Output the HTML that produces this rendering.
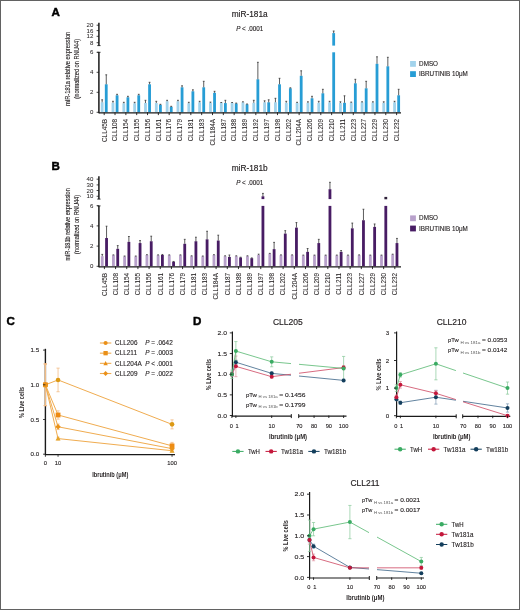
<!DOCTYPE html>
<html><head><meta charset="utf-8"><style>
html,body{margin:0;padding:0;background:#fff;}
body{width:520px;height:610px;overflow:hidden;}
svg{display:block;font-family:"Liberation Sans", sans-serif;will-change:transform;}
text{stroke:#231f20;stroke-width:0.12px;}
text.nb{stroke:#000;stroke-width:0.45px;}
text.t{stroke-width:0.16px;}
text.b{font-weight:bold;stroke-width:0;}
</style></head><body>
<svg width="520" height="610" viewBox="0 0 520 610" font-family='"Liberation Sans", sans-serif'>
<rect x="0" y="0" width="520" height="610" fill="#fff"/>
<rect x="100.75" y="102.30" width="2.80" height="10.00" fill="#a2d3ec"/>
<line x1="102.15" y1="99.80" x2="102.15" y2="102.30" stroke="#333333" stroke-width="0.8"/>
<line x1="101.25" y1="99.80" x2="103.05" y2="99.80" stroke="#333333" stroke-width="0.8"/>
<rect x="104.85" y="84.30" width="2.80" height="28.00" fill="#279dd5"/>
<line x1="106.25" y1="74.80" x2="106.25" y2="84.30" stroke="#333333" stroke-width="0.8"/>
<line x1="105.35" y1="74.80" x2="107.15" y2="74.80" stroke="#333333" stroke-width="0.8"/>
<line x1="104.20" y1="112.30" x2="104.20" y2="115.10" stroke="#1a1a1a" stroke-width="0.9"/>
<text transform="translate(106.50,118.90) rotate(-90)" font-size="6.4" text-anchor="end" fill="#231f20" style="stroke-width:0.05px">CLL45B</text>
<rect x="111.58" y="102.80" width="2.80" height="9.50" fill="#a2d3ec"/>
<line x1="112.98" y1="101.30" x2="112.98" y2="102.80" stroke="#333333" stroke-width="0.8"/>
<line x1="112.08" y1="101.30" x2="113.88" y2="101.30" stroke="#333333" stroke-width="0.8"/>
<rect x="115.68" y="95.30" width="2.80" height="17.00" fill="#279dd5"/>
<line x1="117.08" y1="94.30" x2="117.08" y2="95.30" stroke="#333333" stroke-width="0.8"/>
<line x1="116.18" y1="94.30" x2="117.98" y2="94.30" stroke="#333333" stroke-width="0.8"/>
<line x1="115.03" y1="112.30" x2="115.03" y2="115.10" stroke="#1a1a1a" stroke-width="0.9"/>
<text transform="translate(117.33,118.90) rotate(-90)" font-size="6.4" text-anchor="end" fill="#231f20" style="stroke-width:0.05px">CLL108</text>
<rect x="122.41" y="103.30" width="2.80" height="9.00" fill="#a2d3ec"/>
<line x1="123.81" y1="102.30" x2="123.81" y2="103.30" stroke="#333333" stroke-width="0.8"/>
<line x1="122.91" y1="102.30" x2="124.71" y2="102.30" stroke="#333333" stroke-width="0.8"/>
<rect x="126.51" y="97.30" width="2.80" height="15.00" fill="#279dd5"/>
<line x1="127.91" y1="96.30" x2="127.91" y2="97.30" stroke="#333333" stroke-width="0.8"/>
<line x1="127.01" y1="96.30" x2="128.81" y2="96.30" stroke="#333333" stroke-width="0.8"/>
<line x1="125.86" y1="112.30" x2="125.86" y2="115.10" stroke="#1a1a1a" stroke-width="0.9"/>
<text transform="translate(128.16,118.90) rotate(-90)" font-size="6.4" text-anchor="end" fill="#231f20" style="stroke-width:0.05px">CLL154</text>
<rect x="133.24" y="103.30" width="2.80" height="9.00" fill="#a2d3ec"/>
<line x1="134.64" y1="102.30" x2="134.64" y2="103.30" stroke="#333333" stroke-width="0.8"/>
<line x1="133.74" y1="102.30" x2="135.54" y2="102.30" stroke="#333333" stroke-width="0.8"/>
<rect x="137.34" y="95.30" width="2.80" height="17.00" fill="#279dd5"/>
<line x1="138.74" y1="94.30" x2="138.74" y2="95.30" stroke="#333333" stroke-width="0.8"/>
<line x1="137.84" y1="94.30" x2="139.64" y2="94.30" stroke="#333333" stroke-width="0.8"/>
<line x1="136.69" y1="112.30" x2="136.69" y2="115.10" stroke="#1a1a1a" stroke-width="0.9"/>
<text transform="translate(138.99,118.90) rotate(-90)" font-size="6.4" text-anchor="end" fill="#231f20" style="stroke-width:0.05px">CLL155</text>
<rect x="144.07" y="103.00" width="2.80" height="9.30" fill="#a2d3ec"/>
<line x1="145.47" y1="100.30" x2="145.47" y2="103.00" stroke="#333333" stroke-width="0.8"/>
<line x1="144.57" y1="100.30" x2="146.37" y2="100.30" stroke="#333333" stroke-width="0.8"/>
<rect x="148.17" y="84.30" width="2.80" height="28.00" fill="#279dd5"/>
<line x1="149.57" y1="82.30" x2="149.57" y2="84.30" stroke="#333333" stroke-width="0.8"/>
<line x1="148.67" y1="82.30" x2="150.47" y2="82.30" stroke="#333333" stroke-width="0.8"/>
<line x1="147.52" y1="112.30" x2="147.52" y2="115.10" stroke="#1a1a1a" stroke-width="0.9"/>
<text transform="translate(149.82,118.90) rotate(-90)" font-size="6.4" text-anchor="end" fill="#231f20" style="stroke-width:0.05px">CLL156</text>
<rect x="154.90" y="103.00" width="2.80" height="9.30" fill="#a2d3ec"/>
<line x1="156.30" y1="101.30" x2="156.30" y2="103.00" stroke="#333333" stroke-width="0.8"/>
<line x1="155.40" y1="101.30" x2="157.20" y2="101.30" stroke="#333333" stroke-width="0.8"/>
<rect x="159.00" y="104.80" width="2.80" height="7.50" fill="#279dd5"/>
<line x1="160.40" y1="104.30" x2="160.40" y2="104.80" stroke="#333333" stroke-width="0.8"/>
<line x1="159.50" y1="104.30" x2="161.30" y2="104.30" stroke="#333333" stroke-width="0.8"/>
<line x1="158.35" y1="112.30" x2="158.35" y2="115.10" stroke="#1a1a1a" stroke-width="0.9"/>
<text transform="translate(160.65,118.90) rotate(-90)" font-size="6.4" text-anchor="end" fill="#231f20" style="stroke-width:0.05px">CLL161</text>
<rect x="165.73" y="101.30" width="2.80" height="11.00" fill="#a2d3ec"/>
<line x1="167.13" y1="100.30" x2="167.13" y2="101.30" stroke="#333333" stroke-width="0.8"/>
<line x1="166.23" y1="100.30" x2="168.03" y2="100.30" stroke="#333333" stroke-width="0.8"/>
<rect x="169.83" y="106.80" width="2.80" height="5.50" fill="#279dd5"/>
<line x1="171.23" y1="106.30" x2="171.23" y2="106.80" stroke="#333333" stroke-width="0.8"/>
<line x1="170.33" y1="106.30" x2="172.13" y2="106.30" stroke="#333333" stroke-width="0.8"/>
<line x1="169.18" y1="112.30" x2="169.18" y2="115.10" stroke="#1a1a1a" stroke-width="0.9"/>
<text transform="translate(171.48,118.90) rotate(-90)" font-size="6.4" text-anchor="end" fill="#231f20" style="stroke-width:0.05px">CLL176</text>
<rect x="176.56" y="101.30" width="2.80" height="11.00" fill="#a2d3ec"/>
<line x1="177.96" y1="100.30" x2="177.96" y2="101.30" stroke="#333333" stroke-width="0.8"/>
<line x1="177.06" y1="100.30" x2="178.86" y2="100.30" stroke="#333333" stroke-width="0.8"/>
<rect x="180.66" y="87.30" width="2.80" height="25.00" fill="#279dd5"/>
<line x1="182.06" y1="85.80" x2="182.06" y2="87.30" stroke="#333333" stroke-width="0.8"/>
<line x1="181.16" y1="85.80" x2="182.96" y2="85.80" stroke="#333333" stroke-width="0.8"/>
<line x1="180.01" y1="112.30" x2="180.01" y2="115.10" stroke="#1a1a1a" stroke-width="0.9"/>
<text transform="translate(182.31,118.90) rotate(-90)" font-size="6.4" text-anchor="end" fill="#231f20" style="stroke-width:0.05px">CLL179</text>
<rect x="187.39" y="103.30" width="2.80" height="9.00" fill="#a2d3ec"/>
<line x1="188.79" y1="102.30" x2="188.79" y2="103.30" stroke="#333333" stroke-width="0.8"/>
<line x1="187.89" y1="102.30" x2="189.69" y2="102.30" stroke="#333333" stroke-width="0.8"/>
<rect x="191.49" y="91.30" width="2.80" height="21.00" fill="#279dd5"/>
<line x1="192.89" y1="89.80" x2="192.89" y2="91.30" stroke="#333333" stroke-width="0.8"/>
<line x1="191.99" y1="89.80" x2="193.79" y2="89.80" stroke="#333333" stroke-width="0.8"/>
<line x1="190.84" y1="112.30" x2="190.84" y2="115.10" stroke="#1a1a1a" stroke-width="0.9"/>
<text transform="translate(193.14,118.90) rotate(-90)" font-size="6.4" text-anchor="end" fill="#231f20" style="stroke-width:0.05px">CLL181</text>
<rect x="198.22" y="102.30" width="2.80" height="10.00" fill="#a2d3ec"/>
<line x1="199.62" y1="101.30" x2="199.62" y2="102.30" stroke="#333333" stroke-width="0.8"/>
<line x1="198.72" y1="101.30" x2="200.52" y2="101.30" stroke="#333333" stroke-width="0.8"/>
<rect x="202.32" y="87.30" width="2.80" height="25.00" fill="#279dd5"/>
<line x1="203.72" y1="81.30" x2="203.72" y2="87.30" stroke="#333333" stroke-width="0.8"/>
<line x1="202.82" y1="81.30" x2="204.62" y2="81.30" stroke="#333333" stroke-width="0.8"/>
<line x1="201.67" y1="112.30" x2="201.67" y2="115.10" stroke="#1a1a1a" stroke-width="0.9"/>
<text transform="translate(203.97,118.90) rotate(-90)" font-size="6.4" text-anchor="end" fill="#231f20" style="stroke-width:0.05px">CLL183</text>
<rect x="209.05" y="102.80" width="2.80" height="9.50" fill="#a2d3ec"/>
<line x1="210.45" y1="102.10" x2="210.45" y2="102.80" stroke="#333333" stroke-width="0.8"/>
<line x1="209.55" y1="102.10" x2="211.35" y2="102.10" stroke="#333333" stroke-width="0.8"/>
<rect x="213.15" y="92.80" width="2.80" height="19.50" fill="#279dd5"/>
<line x1="214.55" y1="91.30" x2="214.55" y2="92.80" stroke="#333333" stroke-width="0.8"/>
<line x1="213.65" y1="91.30" x2="215.45" y2="91.30" stroke="#333333" stroke-width="0.8"/>
<line x1="212.50" y1="112.30" x2="212.50" y2="115.10" stroke="#1a1a1a" stroke-width="0.9"/>
<text transform="translate(214.80,118.90) rotate(-90)" font-size="6.4" text-anchor="end" fill="#231f20" style="stroke-width:0.05px">CLL184A</text>
<rect x="219.88" y="102.80" width="2.80" height="9.50" fill="#a2d3ec"/>
<line x1="221.28" y1="102.50" x2="221.28" y2="102.80" stroke="#333333" stroke-width="0.8"/>
<line x1="220.38" y1="102.50" x2="222.18" y2="102.50" stroke="#333333" stroke-width="0.8"/>
<rect x="223.98" y="103.10" width="2.80" height="9.20" fill="#279dd5"/>
<line x1="225.38" y1="100.30" x2="225.38" y2="103.10" stroke="#333333" stroke-width="0.8"/>
<line x1="224.48" y1="100.30" x2="226.28" y2="100.30" stroke="#333333" stroke-width="0.8"/>
<line x1="223.33" y1="112.30" x2="223.33" y2="115.10" stroke="#1a1a1a" stroke-width="0.9"/>
<text transform="translate(225.63,118.90) rotate(-90)" font-size="6.4" text-anchor="end" fill="#231f20" style="stroke-width:0.05px">CLL187</text>
<rect x="230.71" y="102.80" width="2.80" height="9.50" fill="#a2d3ec"/>
<line x1="232.11" y1="102.50" x2="232.11" y2="102.80" stroke="#333333" stroke-width="0.8"/>
<line x1="231.21" y1="102.50" x2="233.01" y2="102.50" stroke="#333333" stroke-width="0.8"/>
<rect x="234.81" y="103.50" width="2.80" height="8.80" fill="#279dd5"/>
<line x1="236.21" y1="103.10" x2="236.21" y2="103.50" stroke="#333333" stroke-width="0.8"/>
<line x1="235.31" y1="103.10" x2="237.11" y2="103.10" stroke="#333333" stroke-width="0.8"/>
<line x1="234.16" y1="112.30" x2="234.16" y2="115.10" stroke="#1a1a1a" stroke-width="0.9"/>
<text transform="translate(236.46,118.90) rotate(-90)" font-size="6.4" text-anchor="end" fill="#231f20" style="stroke-width:0.05px">CLL188</text>
<rect x="241.54" y="102.30" width="2.80" height="10.00" fill="#a2d3ec"/>
<line x1="242.94" y1="101.80" x2="242.94" y2="102.30" stroke="#333333" stroke-width="0.8"/>
<line x1="242.04" y1="101.80" x2="243.84" y2="101.80" stroke="#333333" stroke-width="0.8"/>
<rect x="245.64" y="104.30" width="2.80" height="8.00" fill="#279dd5"/>
<line x1="247.04" y1="104.00" x2="247.04" y2="104.30" stroke="#333333" stroke-width="0.8"/>
<line x1="246.14" y1="104.00" x2="247.94" y2="104.00" stroke="#333333" stroke-width="0.8"/>
<line x1="244.99" y1="112.30" x2="244.99" y2="115.10" stroke="#1a1a1a" stroke-width="0.9"/>
<text transform="translate(247.29,118.90) rotate(-90)" font-size="6.4" text-anchor="end" fill="#231f20" style="stroke-width:0.05px">CLL189</text>
<rect x="252.37" y="102.80" width="2.80" height="9.50" fill="#a2d3ec"/>
<line x1="253.77" y1="100.30" x2="253.77" y2="102.80" stroke="#333333" stroke-width="0.8"/>
<line x1="252.87" y1="100.30" x2="254.67" y2="100.30" stroke="#333333" stroke-width="0.8"/>
<rect x="256.47" y="79.30" width="2.80" height="33.00" fill="#279dd5"/>
<line x1="257.87" y1="62.30" x2="257.87" y2="79.30" stroke="#333333" stroke-width="0.8"/>
<line x1="256.97" y1="62.30" x2="258.77" y2="62.30" stroke="#333333" stroke-width="0.8"/>
<line x1="255.82" y1="112.30" x2="255.82" y2="115.10" stroke="#1a1a1a" stroke-width="0.9"/>
<text transform="translate(258.12,118.90) rotate(-90)" font-size="6.4" text-anchor="end" fill="#231f20" style="stroke-width:0.05px">CLL192</text>
<rect x="263.20" y="102.30" width="2.80" height="10.00" fill="#a2d3ec"/>
<line x1="264.60" y1="100.80" x2="264.60" y2="102.30" stroke="#333333" stroke-width="0.8"/>
<line x1="263.70" y1="100.80" x2="265.50" y2="100.80" stroke="#333333" stroke-width="0.8"/>
<rect x="267.30" y="102.30" width="2.80" height="10.00" fill="#279dd5"/>
<line x1="268.70" y1="99.80" x2="268.70" y2="102.30" stroke="#333333" stroke-width="0.8"/>
<line x1="267.80" y1="99.80" x2="269.60" y2="99.80" stroke="#333333" stroke-width="0.8"/>
<line x1="266.65" y1="112.30" x2="266.65" y2="115.10" stroke="#1a1a1a" stroke-width="0.9"/>
<text transform="translate(268.95,118.90) rotate(-90)" font-size="6.4" text-anchor="end" fill="#231f20" style="stroke-width:0.05px">CLL197</text>
<rect x="274.03" y="102.30" width="2.80" height="10.00" fill="#a2d3ec"/>
<line x1="275.43" y1="98.30" x2="275.43" y2="102.30" stroke="#333333" stroke-width="0.8"/>
<line x1="274.53" y1="98.30" x2="276.33" y2="98.30" stroke="#333333" stroke-width="0.8"/>
<rect x="278.13" y="84.30" width="2.80" height="28.00" fill="#279dd5"/>
<line x1="279.53" y1="78.30" x2="279.53" y2="84.30" stroke="#333333" stroke-width="0.8"/>
<line x1="278.63" y1="78.30" x2="280.43" y2="78.30" stroke="#333333" stroke-width="0.8"/>
<line x1="277.48" y1="112.30" x2="277.48" y2="115.10" stroke="#1a1a1a" stroke-width="0.9"/>
<text transform="translate(279.78,118.90) rotate(-90)" font-size="6.4" text-anchor="end" fill="#231f20" style="stroke-width:0.05px">CLL198</text>
<rect x="284.86" y="102.80" width="2.80" height="9.50" fill="#a2d3ec"/>
<line x1="286.26" y1="101.30" x2="286.26" y2="102.80" stroke="#333333" stroke-width="0.8"/>
<line x1="285.36" y1="101.30" x2="287.16" y2="101.30" stroke="#333333" stroke-width="0.8"/>
<rect x="288.96" y="88.30" width="2.80" height="24.00" fill="#279dd5"/>
<line x1="290.36" y1="87.80" x2="290.36" y2="88.30" stroke="#333333" stroke-width="0.8"/>
<line x1="289.46" y1="87.80" x2="291.26" y2="87.80" stroke="#333333" stroke-width="0.8"/>
<line x1="288.31" y1="112.30" x2="288.31" y2="115.10" stroke="#1a1a1a" stroke-width="0.9"/>
<text transform="translate(290.61,118.90) rotate(-90)" font-size="6.4" text-anchor="end" fill="#231f20" style="stroke-width:0.05px">CLL202</text>
<rect x="295.69" y="103.00" width="2.80" height="9.30" fill="#a2d3ec"/>
<line x1="297.09" y1="102.30" x2="297.09" y2="103.00" stroke="#333333" stroke-width="0.8"/>
<line x1="296.19" y1="102.30" x2="297.99" y2="102.30" stroke="#333333" stroke-width="0.8"/>
<rect x="299.79" y="75.80" width="2.80" height="36.50" fill="#279dd5"/>
<line x1="301.19" y1="70.80" x2="301.19" y2="75.80" stroke="#333333" stroke-width="0.8"/>
<line x1="300.29" y1="70.80" x2="302.09" y2="70.80" stroke="#333333" stroke-width="0.8"/>
<line x1="299.14" y1="112.30" x2="299.14" y2="115.10" stroke="#1a1a1a" stroke-width="0.9"/>
<text transform="translate(301.44,118.90) rotate(-90)" font-size="6.4" text-anchor="end" fill="#231f20" style="stroke-width:0.05px">CLL204A</text>
<rect x="306.52" y="102.80" width="2.80" height="9.50" fill="#a2d3ec"/>
<line x1="307.92" y1="101.80" x2="307.92" y2="102.80" stroke="#333333" stroke-width="0.8"/>
<line x1="307.02" y1="101.80" x2="308.82" y2="101.80" stroke="#333333" stroke-width="0.8"/>
<rect x="310.62" y="98.30" width="2.80" height="14.00" fill="#279dd5"/>
<line x1="312.02" y1="96.30" x2="312.02" y2="98.30" stroke="#333333" stroke-width="0.8"/>
<line x1="311.12" y1="96.30" x2="312.92" y2="96.30" stroke="#333333" stroke-width="0.8"/>
<line x1="309.97" y1="112.30" x2="309.97" y2="115.10" stroke="#1a1a1a" stroke-width="0.9"/>
<text transform="translate(312.27,118.90) rotate(-90)" font-size="6.4" text-anchor="end" fill="#231f20" style="stroke-width:0.05px">CLL206</text>
<rect x="317.35" y="102.80" width="2.80" height="9.50" fill="#a2d3ec"/>
<line x1="318.75" y1="101.30" x2="318.75" y2="102.80" stroke="#333333" stroke-width="0.8"/>
<line x1="317.85" y1="101.30" x2="319.65" y2="101.30" stroke="#333333" stroke-width="0.8"/>
<rect x="321.45" y="93.30" width="2.80" height="19.00" fill="#279dd5"/>
<line x1="322.85" y1="89.30" x2="322.85" y2="93.30" stroke="#333333" stroke-width="0.8"/>
<line x1="321.95" y1="89.30" x2="323.75" y2="89.30" stroke="#333333" stroke-width="0.8"/>
<line x1="320.80" y1="112.30" x2="320.80" y2="115.10" stroke="#1a1a1a" stroke-width="0.9"/>
<text transform="translate(323.10,118.90) rotate(-90)" font-size="6.4" text-anchor="end" fill="#231f20" style="stroke-width:0.05px">CLL209</text>
<rect x="328.18" y="102.30" width="2.80" height="10.00" fill="#a2d3ec"/>
<line x1="329.58" y1="101.30" x2="329.58" y2="102.30" stroke="#333333" stroke-width="0.8"/>
<line x1="328.68" y1="101.30" x2="330.48" y2="101.30" stroke="#333333" stroke-width="0.8"/>
<rect x="332.28" y="52.30" width="2.80" height="60.00" fill="#279dd5"/>
<rect x="332.28" y="33.10" width="2.80" height="12.50" fill="#279dd5"/>
<line x1="333.68" y1="31.00" x2="333.68" y2="33.10" stroke="#333333" stroke-width="0.8"/>
<line x1="332.78" y1="31.00" x2="334.58" y2="31.00" stroke="#333333" stroke-width="0.8"/>
<line x1="331.63" y1="112.30" x2="331.63" y2="115.10" stroke="#1a1a1a" stroke-width="0.9"/>
<text transform="translate(333.93,118.90) rotate(-90)" font-size="6.4" text-anchor="end" fill="#231f20" style="stroke-width:0.05px">CLL210</text>
<rect x="339.01" y="103.00" width="2.80" height="9.30" fill="#a2d3ec"/>
<line x1="340.41" y1="101.80" x2="340.41" y2="103.00" stroke="#333333" stroke-width="0.8"/>
<line x1="339.51" y1="101.80" x2="341.31" y2="101.80" stroke="#333333" stroke-width="0.8"/>
<rect x="343.11" y="102.80" width="2.80" height="9.50" fill="#279dd5"/>
<line x1="344.51" y1="95.80" x2="344.51" y2="102.80" stroke="#333333" stroke-width="0.8"/>
<line x1="343.61" y1="95.80" x2="345.41" y2="95.80" stroke="#333333" stroke-width="0.8"/>
<line x1="342.46" y1="112.30" x2="342.46" y2="115.10" stroke="#1a1a1a" stroke-width="0.9"/>
<text transform="translate(344.76,118.90) rotate(-90)" font-size="6.4" text-anchor="end" fill="#231f20" style="stroke-width:0.05px">CLL211</text>
<rect x="349.84" y="102.60" width="2.80" height="9.70" fill="#a2d3ec"/>
<line x1="351.24" y1="102.10" x2="351.24" y2="102.60" stroke="#333333" stroke-width="0.8"/>
<line x1="350.34" y1="102.10" x2="352.14" y2="102.10" stroke="#333333" stroke-width="0.8"/>
<rect x="353.94" y="83.30" width="2.80" height="29.00" fill="#279dd5"/>
<line x1="355.34" y1="79.30" x2="355.34" y2="83.30" stroke="#333333" stroke-width="0.8"/>
<line x1="354.44" y1="79.30" x2="356.24" y2="79.30" stroke="#333333" stroke-width="0.8"/>
<line x1="353.29" y1="112.30" x2="353.29" y2="115.10" stroke="#1a1a1a" stroke-width="0.9"/>
<text transform="translate(355.59,118.90) rotate(-90)" font-size="6.4" text-anchor="end" fill="#231f20" style="stroke-width:0.05px">CLL223</text>
<rect x="360.67" y="102.30" width="2.80" height="10.00" fill="#a2d3ec"/>
<line x1="362.07" y1="101.80" x2="362.07" y2="102.30" stroke="#333333" stroke-width="0.8"/>
<line x1="361.17" y1="101.80" x2="362.97" y2="101.80" stroke="#333333" stroke-width="0.8"/>
<rect x="364.77" y="88.30" width="2.80" height="24.00" fill="#279dd5"/>
<line x1="366.17" y1="81.30" x2="366.17" y2="88.30" stroke="#333333" stroke-width="0.8"/>
<line x1="365.27" y1="81.30" x2="367.07" y2="81.30" stroke="#333333" stroke-width="0.8"/>
<line x1="364.12" y1="112.30" x2="364.12" y2="115.10" stroke="#1a1a1a" stroke-width="0.9"/>
<text transform="translate(366.42,118.90) rotate(-90)" font-size="6.4" text-anchor="end" fill="#231f20" style="stroke-width:0.05px">CLL227</text>
<rect x="371.50" y="102.60" width="2.80" height="9.70" fill="#a2d3ec"/>
<line x1="372.90" y1="101.80" x2="372.90" y2="102.60" stroke="#333333" stroke-width="0.8"/>
<line x1="372.00" y1="101.80" x2="373.80" y2="101.80" stroke="#333333" stroke-width="0.8"/>
<rect x="375.60" y="63.80" width="2.80" height="48.50" fill="#279dd5"/>
<line x1="377.00" y1="56.80" x2="377.00" y2="63.80" stroke="#333333" stroke-width="0.8"/>
<line x1="376.10" y1="56.80" x2="377.90" y2="56.80" stroke="#333333" stroke-width="0.8"/>
<line x1="374.95" y1="112.30" x2="374.95" y2="115.10" stroke="#1a1a1a" stroke-width="0.9"/>
<text transform="translate(377.25,118.90) rotate(-90)" font-size="6.4" text-anchor="end" fill="#231f20" style="stroke-width:0.05px">CLL229</text>
<rect x="382.33" y="102.80" width="2.80" height="9.50" fill="#a2d3ec"/>
<line x1="383.73" y1="101.80" x2="383.73" y2="102.80" stroke="#333333" stroke-width="0.8"/>
<line x1="382.83" y1="101.80" x2="384.63" y2="101.80" stroke="#333333" stroke-width="0.8"/>
<rect x="386.43" y="66.30" width="2.80" height="46.00" fill="#279dd5"/>
<line x1="387.83" y1="57.30" x2="387.83" y2="66.30" stroke="#333333" stroke-width="0.8"/>
<line x1="386.93" y1="57.30" x2="388.73" y2="57.30" stroke="#333333" stroke-width="0.8"/>
<line x1="385.78" y1="112.30" x2="385.78" y2="115.10" stroke="#1a1a1a" stroke-width="0.9"/>
<text transform="translate(388.08,118.90) rotate(-90)" font-size="6.4" text-anchor="end" fill="#231f20" style="stroke-width:0.05px">CLL230</text>
<rect x="393.16" y="102.30" width="2.80" height="10.00" fill="#a2d3ec"/>
<line x1="394.56" y1="101.30" x2="394.56" y2="102.30" stroke="#333333" stroke-width="0.8"/>
<line x1="393.66" y1="101.30" x2="395.46" y2="101.30" stroke="#333333" stroke-width="0.8"/>
<rect x="397.26" y="95.30" width="2.80" height="17.00" fill="#279dd5"/>
<line x1="398.66" y1="89.30" x2="398.66" y2="95.30" stroke="#333333" stroke-width="0.8"/>
<line x1="397.76" y1="89.30" x2="399.56" y2="89.30" stroke="#333333" stroke-width="0.8"/>
<line x1="396.61" y1="112.30" x2="396.61" y2="115.10" stroke="#1a1a1a" stroke-width="0.9"/>
<text transform="translate(398.91,118.90) rotate(-90)" font-size="6.4" text-anchor="end" fill="#231f20" style="stroke-width:0.05px">CLL232</text>
<line x1="98.90" y1="112.90" x2="401.00" y2="112.90" stroke="#1a1a1a" stroke-width="1.3"/>
<line x1="98.90" y1="113.30" x2="98.90" y2="52.30" stroke="#1a1a1a" stroke-width="1.5"/>
<line x1="97.30" y1="52.30" x2="100.50" y2="52.30" stroke="#1a1a1a" stroke-width="0.9"/>
<line x1="96.60" y1="112.30" x2="98.90" y2="112.30" stroke="#1a1a1a" stroke-width="0.8"/>
<text x="93.30" y="114.40" font-size="6.1" text-anchor="end" fill="#231f20" style="stroke-width:0.04px">0</text>
<line x1="96.60" y1="92.30" x2="98.90" y2="92.30" stroke="#1a1a1a" stroke-width="0.8"/>
<text x="93.30" y="94.40" font-size="6.1" text-anchor="end" fill="#231f20" style="stroke-width:0.04px">2</text>
<line x1="96.60" y1="72.30" x2="98.90" y2="72.30" stroke="#1a1a1a" stroke-width="0.8"/>
<text x="93.30" y="74.40" font-size="6.1" text-anchor="end" fill="#231f20" style="stroke-width:0.04px">4</text>
<line x1="96.60" y1="52.30" x2="98.90" y2="52.30" stroke="#1a1a1a" stroke-width="0.8"/>
<text x="93.30" y="54.40" font-size="6.1" text-anchor="end" fill="#231f20" style="stroke-width:0.04px">6</text>
<line x1="98.90" y1="22.80" x2="98.90" y2="45.60" stroke="#1a1a1a" stroke-width="1.5"/>
<line x1="97.30" y1="45.60" x2="100.50" y2="45.60" stroke="#1a1a1a" stroke-width="0.9"/>
<line x1="96.60" y1="25.20" x2="98.90" y2="25.20" stroke="#1a1a1a" stroke-width="0.8"/>
<text x="93.30" y="27.30" font-size="6.1" text-anchor="end" fill="#231f20" style="stroke-width:0.04px">20</text>
<line x1="96.60" y1="30.60" x2="98.90" y2="30.60" stroke="#1a1a1a" stroke-width="0.8"/>
<text x="93.30" y="32.70" font-size="6.1" text-anchor="end" fill="#231f20" style="stroke-width:0.04px">16</text>
<line x1="96.60" y1="36.30" x2="98.90" y2="36.30" stroke="#1a1a1a" stroke-width="0.8"/>
<text x="93.30" y="38.40" font-size="6.1" text-anchor="end" fill="#231f20" style="stroke-width:0.04px">12</text>
<line x1="96.60" y1="42.70" x2="98.90" y2="42.70" stroke="#1a1a1a" stroke-width="0.8"/>
<text x="93.30" y="44.80" font-size="6.1" text-anchor="end" fill="#231f20" style="stroke-width:0.04px">8</text>
<text transform="translate(69.90,68.80) rotate(-90)" font-size="6.8" text-anchor="middle" fill="#231f20" textLength="74.2" lengthAdjust="spacingAndGlyphs">miR-181a relative expression</text>
<text transform="translate(79.30,68.80) rotate(-90)" font-size="6.8" text-anchor="middle" fill="#231f20" textLength="59.7" lengthAdjust="spacingAndGlyphs">(normalized on RNU44)</text>
<text x="249.70" y="16.70" font-size="8.3" text-anchor="middle" fill="#231f20" class="t">miR-181a</text>
<text x="249.70" y="30.70" font-size="6.3" text-anchor="middle" fill="#231f20"><tspan font-style="italic">P</tspan> &lt; .0001</text>
<rect x="410.10" y="61.00" width="5.80" height="5.80" fill="#a2d3ec"/>
<rect x="410.10" y="71.20" width="5.80" height="5.80" fill="#279dd5"/>
<text x="419.10" y="66.00" font-size="6.3" fill="#231f20">DMSO</text>
<text x="419.10" y="76.20" font-size="6.3" fill="#231f20">IBRUTINIB 10μM</text>
<text x="51.60" y="16.00" font-size="11.6" font-weight="bold" fill="#000" class="nb">A</text>
<rect x="100.85" y="256.20" width="2.80" height="10.10" fill="#b8a1cb"/>
<line x1="102.25" y1="254.38" x2="102.25" y2="256.20" stroke="#333333" stroke-width="0.8"/>
<line x1="101.35" y1="254.38" x2="103.15" y2="254.38" stroke="#333333" stroke-width="0.8"/>
<rect x="105.15" y="238.02" width="2.80" height="28.28" fill="#481c64"/>
<line x1="106.55" y1="226.20" x2="106.55" y2="238.02" stroke="#333333" stroke-width="0.8"/>
<line x1="105.65" y1="226.20" x2="107.45" y2="226.20" stroke="#333333" stroke-width="0.8"/>
<line x1="104.40" y1="266.30" x2="104.40" y2="269.10" stroke="#1a1a1a" stroke-width="0.9"/>
<text transform="translate(106.70,272.90) rotate(-90)" font-size="6.4" text-anchor="end" fill="#231f20" style="stroke-width:0.05px">CLL45B</text>
<rect x="112.02" y="255.19" width="2.80" height="11.11" fill="#b8a1cb"/>
<line x1="113.42" y1="254.89" x2="113.42" y2="255.19" stroke="#333333" stroke-width="0.8"/>
<line x1="112.52" y1="254.89" x2="114.32" y2="254.89" stroke="#333333" stroke-width="0.8"/>
<rect x="116.32" y="248.83" width="2.80" height="17.47" fill="#481c64"/>
<line x1="117.72" y1="245.60" x2="117.72" y2="248.83" stroke="#333333" stroke-width="0.8"/>
<line x1="116.82" y1="245.60" x2="118.62" y2="245.60" stroke="#333333" stroke-width="0.8"/>
<line x1="115.57" y1="266.30" x2="115.57" y2="269.10" stroke="#1a1a1a" stroke-width="0.9"/>
<text transform="translate(117.87,272.90) rotate(-90)" font-size="6.4" text-anchor="end" fill="#231f20" style="stroke-width:0.05px">CLL108</text>
<rect x="123.19" y="256.40" width="2.80" height="9.90" fill="#b8a1cb"/>
<line x1="124.59" y1="256.00" x2="124.59" y2="256.40" stroke="#333333" stroke-width="0.8"/>
<line x1="123.69" y1="256.00" x2="125.49" y2="256.00" stroke="#333333" stroke-width="0.8"/>
<rect x="127.49" y="241.86" width="2.80" height="24.44" fill="#481c64"/>
<line x1="128.89" y1="236.50" x2="128.89" y2="241.86" stroke="#333333" stroke-width="0.8"/>
<line x1="127.99" y1="236.50" x2="129.79" y2="236.50" stroke="#333333" stroke-width="0.8"/>
<line x1="126.74" y1="266.30" x2="126.74" y2="269.10" stroke="#1a1a1a" stroke-width="0.9"/>
<text transform="translate(129.04,272.90) rotate(-90)" font-size="6.4" text-anchor="end" fill="#231f20" style="stroke-width:0.05px">CLL154</text>
<rect x="134.36" y="256.40" width="2.80" height="9.90" fill="#b8a1cb"/>
<line x1="135.76" y1="256.00" x2="135.76" y2="256.40" stroke="#333333" stroke-width="0.8"/>
<line x1="134.86" y1="256.00" x2="136.66" y2="256.00" stroke="#333333" stroke-width="0.8"/>
<rect x="138.66" y="243.07" width="2.80" height="23.23" fill="#481c64"/>
<line x1="140.06" y1="240.55" x2="140.06" y2="243.07" stroke="#333333" stroke-width="0.8"/>
<line x1="139.16" y1="240.55" x2="140.96" y2="240.55" stroke="#333333" stroke-width="0.8"/>
<line x1="137.91" y1="266.30" x2="137.91" y2="269.10" stroke="#1a1a1a" stroke-width="0.9"/>
<text transform="translate(140.21,272.90) rotate(-90)" font-size="6.4" text-anchor="end" fill="#231f20" style="stroke-width:0.05px">CLL155</text>
<rect x="145.53" y="254.99" width="2.80" height="11.31" fill="#b8a1cb"/>
<line x1="146.93" y1="254.69" x2="146.93" y2="254.99" stroke="#333333" stroke-width="0.8"/>
<line x1="146.03" y1="254.69" x2="147.83" y2="254.69" stroke="#333333" stroke-width="0.8"/>
<rect x="149.83" y="241.25" width="2.80" height="25.05" fill="#481c64"/>
<line x1="151.23" y1="236.20" x2="151.23" y2="241.25" stroke="#333333" stroke-width="0.8"/>
<line x1="150.33" y1="236.20" x2="152.13" y2="236.20" stroke="#333333" stroke-width="0.8"/>
<line x1="149.08" y1="266.30" x2="149.08" y2="269.10" stroke="#1a1a1a" stroke-width="0.9"/>
<text transform="translate(151.38,272.90) rotate(-90)" font-size="6.4" text-anchor="end" fill="#231f20" style="stroke-width:0.05px">CLL156</text>
<rect x="156.70" y="255.19" width="2.80" height="11.11" fill="#b8a1cb"/>
<line x1="158.10" y1="254.89" x2="158.10" y2="255.19" stroke="#333333" stroke-width="0.8"/>
<line x1="157.20" y1="254.89" x2="159.00" y2="254.89" stroke="#333333" stroke-width="0.8"/>
<rect x="161.00" y="254.99" width="2.80" height="11.31" fill="#481c64"/>
<line x1="162.40" y1="254.48" x2="162.40" y2="254.99" stroke="#333333" stroke-width="0.8"/>
<line x1="161.50" y1="254.48" x2="163.30" y2="254.48" stroke="#333333" stroke-width="0.8"/>
<line x1="160.25" y1="266.30" x2="160.25" y2="269.10" stroke="#1a1a1a" stroke-width="0.9"/>
<text transform="translate(162.55,272.90) rotate(-90)" font-size="6.4" text-anchor="end" fill="#231f20" style="stroke-width:0.05px">CLL161</text>
<rect x="167.87" y="255.19" width="2.80" height="11.11" fill="#b8a1cb"/>
<line x1="169.27" y1="254.89" x2="169.27" y2="255.19" stroke="#333333" stroke-width="0.8"/>
<line x1="168.37" y1="254.89" x2="170.17" y2="254.89" stroke="#333333" stroke-width="0.8"/>
<rect x="172.17" y="261.75" width="2.80" height="4.54" fill="#481c64"/>
<line x1="173.57" y1="261.45" x2="173.57" y2="261.75" stroke="#333333" stroke-width="0.8"/>
<line x1="172.67" y1="261.45" x2="174.47" y2="261.45" stroke="#333333" stroke-width="0.8"/>
<line x1="171.42" y1="266.30" x2="171.42" y2="269.10" stroke="#1a1a1a" stroke-width="0.9"/>
<text transform="translate(173.72,272.90) rotate(-90)" font-size="6.4" text-anchor="end" fill="#231f20" style="stroke-width:0.05px">CLL176</text>
<rect x="179.04" y="255.19" width="2.80" height="11.11" fill="#b8a1cb"/>
<line x1="180.44" y1="254.89" x2="180.44" y2="255.19" stroke="#333333" stroke-width="0.8"/>
<line x1="179.54" y1="254.89" x2="181.34" y2="254.89" stroke="#333333" stroke-width="0.8"/>
<rect x="183.34" y="243.78" width="2.80" height="22.52" fill="#481c64"/>
<line x1="184.74" y1="239.33" x2="184.74" y2="243.78" stroke="#333333" stroke-width="0.8"/>
<line x1="183.84" y1="239.33" x2="185.64" y2="239.33" stroke="#333333" stroke-width="0.8"/>
<line x1="182.59" y1="266.30" x2="182.59" y2="269.10" stroke="#1a1a1a" stroke-width="0.9"/>
<text transform="translate(184.89,272.90) rotate(-90)" font-size="6.4" text-anchor="end" fill="#231f20" style="stroke-width:0.05px">CLL179</text>
<rect x="190.21" y="256.20" width="2.80" height="10.10" fill="#b8a1cb"/>
<line x1="191.61" y1="255.80" x2="191.61" y2="256.20" stroke="#333333" stroke-width="0.8"/>
<line x1="190.71" y1="255.80" x2="192.51" y2="255.80" stroke="#333333" stroke-width="0.8"/>
<rect x="194.51" y="241.25" width="2.80" height="25.05" fill="#481c64"/>
<line x1="195.91" y1="237.21" x2="195.91" y2="241.25" stroke="#333333" stroke-width="0.8"/>
<line x1="195.01" y1="237.21" x2="196.81" y2="237.21" stroke="#333333" stroke-width="0.8"/>
<line x1="193.76" y1="266.30" x2="193.76" y2="269.10" stroke="#1a1a1a" stroke-width="0.9"/>
<text transform="translate(196.06,272.90) rotate(-90)" font-size="6.4" text-anchor="end" fill="#231f20" style="stroke-width:0.05px">CLL181</text>
<rect x="201.38" y="256.40" width="2.80" height="9.90" fill="#b8a1cb"/>
<line x1="202.78" y1="256.00" x2="202.78" y2="256.40" stroke="#333333" stroke-width="0.8"/>
<line x1="201.88" y1="256.00" x2="203.68" y2="256.00" stroke="#333333" stroke-width="0.8"/>
<rect x="205.68" y="239.33" width="2.80" height="26.97" fill="#481c64"/>
<line x1="207.08" y1="231.25" x2="207.08" y2="239.33" stroke="#333333" stroke-width="0.8"/>
<line x1="206.18" y1="231.25" x2="207.98" y2="231.25" stroke="#333333" stroke-width="0.8"/>
<line x1="204.93" y1="266.30" x2="204.93" y2="269.10" stroke="#1a1a1a" stroke-width="0.9"/>
<text transform="translate(207.23,272.90) rotate(-90)" font-size="6.4" text-anchor="end" fill="#231f20" style="stroke-width:0.05px">CLL183</text>
<rect x="212.55" y="254.99" width="2.80" height="11.31" fill="#b8a1cb"/>
<line x1="213.95" y1="254.69" x2="213.95" y2="254.99" stroke="#333333" stroke-width="0.8"/>
<line x1="213.05" y1="254.69" x2="214.85" y2="254.69" stroke="#333333" stroke-width="0.8"/>
<rect x="216.85" y="240.55" width="2.80" height="25.75" fill="#481c64"/>
<line x1="218.25" y1="235.19" x2="218.25" y2="240.55" stroke="#333333" stroke-width="0.8"/>
<line x1="217.35" y1="235.19" x2="219.15" y2="235.19" stroke="#333333" stroke-width="0.8"/>
<line x1="216.10" y1="266.30" x2="216.10" y2="269.10" stroke="#1a1a1a" stroke-width="0.9"/>
<text transform="translate(218.40,272.90) rotate(-90)" font-size="6.4" text-anchor="end" fill="#231f20" style="stroke-width:0.05px">CLL184A</text>
<rect x="223.72" y="256.20" width="2.80" height="10.10" fill="#b8a1cb"/>
<line x1="225.12" y1="255.80" x2="225.12" y2="256.20" stroke="#333333" stroke-width="0.8"/>
<line x1="224.22" y1="255.80" x2="226.02" y2="255.80" stroke="#333333" stroke-width="0.8"/>
<rect x="228.02" y="256.91" width="2.80" height="9.39" fill="#481c64"/>
<line x1="229.42" y1="254.99" x2="229.42" y2="256.91" stroke="#333333" stroke-width="0.8"/>
<line x1="228.52" y1="254.99" x2="230.32" y2="254.99" stroke="#333333" stroke-width="0.8"/>
<line x1="227.27" y1="266.30" x2="227.27" y2="269.10" stroke="#1a1a1a" stroke-width="0.9"/>
<text transform="translate(229.57,272.90) rotate(-90)" font-size="6.4" text-anchor="end" fill="#231f20" style="stroke-width:0.05px">CLL187</text>
<rect x="234.89" y="256.20" width="2.80" height="10.10" fill="#b8a1cb"/>
<line x1="236.29" y1="255.80" x2="236.29" y2="256.20" stroke="#333333" stroke-width="0.8"/>
<line x1="235.39" y1="255.80" x2="237.19" y2="255.80" stroke="#333333" stroke-width="0.8"/>
<rect x="239.19" y="257.51" width="2.80" height="8.79" fill="#481c64"/>
<line x1="240.59" y1="257.21" x2="240.59" y2="257.51" stroke="#333333" stroke-width="0.8"/>
<line x1="239.69" y1="257.21" x2="241.49" y2="257.21" stroke="#333333" stroke-width="0.8"/>
<line x1="238.44" y1="266.30" x2="238.44" y2="269.10" stroke="#1a1a1a" stroke-width="0.9"/>
<text transform="translate(240.74,272.90) rotate(-90)" font-size="6.4" text-anchor="end" fill="#231f20" style="stroke-width:0.05px">CLL188</text>
<rect x="246.06" y="256.20" width="2.80" height="10.10" fill="#b8a1cb"/>
<line x1="247.46" y1="255.80" x2="247.46" y2="256.20" stroke="#333333" stroke-width="0.8"/>
<line x1="246.56" y1="255.80" x2="248.36" y2="255.80" stroke="#333333" stroke-width="0.8"/>
<rect x="250.36" y="258.22" width="2.80" height="8.08" fill="#481c64"/>
<line x1="251.76" y1="257.92" x2="251.76" y2="258.22" stroke="#333333" stroke-width="0.8"/>
<line x1="250.86" y1="257.92" x2="252.66" y2="257.92" stroke="#333333" stroke-width="0.8"/>
<line x1="249.61" y1="266.30" x2="249.61" y2="269.10" stroke="#1a1a1a" stroke-width="0.9"/>
<text transform="translate(251.91,272.90) rotate(-90)" font-size="6.4" text-anchor="end" fill="#231f20" style="stroke-width:0.05px">CLL189</text>
<rect x="257.23" y="254.99" width="2.80" height="11.31" fill="#b8a1cb"/>
<line x1="258.63" y1="254.18" x2="258.63" y2="254.99" stroke="#333333" stroke-width="0.8"/>
<line x1="257.73" y1="254.18" x2="259.53" y2="254.18" stroke="#333333" stroke-width="0.8"/>
<rect x="261.53" y="205.90" width="2.80" height="60.40" fill="#481c64"/>
<rect x="261.53" y="196.30" width="2.80" height="2.80" fill="#481c64"/>
<line x1="262.93" y1="193.40" x2="262.93" y2="196.30" stroke="#333333" stroke-width="0.8"/>
<line x1="262.03" y1="193.40" x2="263.83" y2="193.40" stroke="#333333" stroke-width="0.8"/>
<line x1="260.78" y1="266.30" x2="260.78" y2="269.10" stroke="#1a1a1a" stroke-width="0.9"/>
<text transform="translate(263.08,272.90) rotate(-90)" font-size="6.4" text-anchor="end" fill="#231f20" style="stroke-width:0.05px">CLL197</text>
<rect x="268.40" y="253.68" width="2.80" height="12.62" fill="#b8a1cb"/>
<line x1="269.80" y1="253.37" x2="269.80" y2="253.68" stroke="#333333" stroke-width="0.8"/>
<line x1="268.90" y1="253.37" x2="270.70" y2="253.37" stroke="#333333" stroke-width="0.8"/>
<rect x="272.70" y="249.13" width="2.80" height="17.17" fill="#481c64"/>
<line x1="274.10" y1="242.36" x2="274.10" y2="249.13" stroke="#333333" stroke-width="0.8"/>
<line x1="273.20" y1="242.36" x2="275.00" y2="242.36" stroke="#333333" stroke-width="0.8"/>
<line x1="271.95" y1="266.30" x2="271.95" y2="269.10" stroke="#1a1a1a" stroke-width="0.9"/>
<text transform="translate(274.25,272.90) rotate(-90)" font-size="6.4" text-anchor="end" fill="#231f20" style="stroke-width:0.05px">CLL198</text>
<rect x="279.57" y="255.19" width="2.80" height="11.11" fill="#b8a1cb"/>
<line x1="280.97" y1="254.89" x2="280.97" y2="255.19" stroke="#333333" stroke-width="0.8"/>
<line x1="280.07" y1="254.89" x2="281.87" y2="254.89" stroke="#333333" stroke-width="0.8"/>
<rect x="283.87" y="233.58" width="2.80" height="32.72" fill="#481c64"/>
<line x1="285.27" y1="230.65" x2="285.27" y2="233.58" stroke="#333333" stroke-width="0.8"/>
<line x1="284.37" y1="230.65" x2="286.17" y2="230.65" stroke="#333333" stroke-width="0.8"/>
<line x1="283.12" y1="266.30" x2="283.12" y2="269.10" stroke="#1a1a1a" stroke-width="0.9"/>
<text transform="translate(285.42,272.90) rotate(-90)" font-size="6.4" text-anchor="end" fill="#231f20" style="stroke-width:0.05px">CLL202</text>
<rect x="290.74" y="255.19" width="2.80" height="11.11" fill="#b8a1cb"/>
<line x1="292.14" y1="254.89" x2="292.14" y2="255.19" stroke="#333333" stroke-width="0.8"/>
<line x1="291.24" y1="254.89" x2="293.04" y2="254.89" stroke="#333333" stroke-width="0.8"/>
<rect x="295.04" y="227.62" width="2.80" height="38.68" fill="#481c64"/>
<line x1="296.44" y1="222.57" x2="296.44" y2="227.62" stroke="#333333" stroke-width="0.8"/>
<line x1="295.54" y1="222.57" x2="297.34" y2="222.57" stroke="#333333" stroke-width="0.8"/>
<line x1="294.29" y1="266.30" x2="294.29" y2="269.10" stroke="#1a1a1a" stroke-width="0.9"/>
<text transform="translate(296.59,272.90) rotate(-90)" font-size="6.4" text-anchor="end" fill="#231f20" style="stroke-width:0.05px">CLL204A</text>
<rect x="301.91" y="255.39" width="2.80" height="10.91" fill="#b8a1cb"/>
<line x1="303.31" y1="255.09" x2="303.31" y2="255.39" stroke="#333333" stroke-width="0.8"/>
<line x1="302.41" y1="255.09" x2="304.21" y2="255.09" stroke="#333333" stroke-width="0.8"/>
<rect x="306.21" y="251.86" width="2.80" height="14.44" fill="#481c64"/>
<line x1="307.61" y1="248.52" x2="307.61" y2="251.86" stroke="#333333" stroke-width="0.8"/>
<line x1="306.71" y1="248.52" x2="308.51" y2="248.52" stroke="#333333" stroke-width="0.8"/>
<line x1="305.46" y1="266.30" x2="305.46" y2="269.10" stroke="#1a1a1a" stroke-width="0.9"/>
<text transform="translate(307.76,272.90) rotate(-90)" font-size="6.4" text-anchor="end" fill="#231f20" style="stroke-width:0.05px">CLL206</text>
<rect x="313.08" y="255.39" width="2.80" height="10.91" fill="#b8a1cb"/>
<line x1="314.48" y1="255.09" x2="314.48" y2="255.39" stroke="#333333" stroke-width="0.8"/>
<line x1="313.58" y1="255.09" x2="315.38" y2="255.09" stroke="#333333" stroke-width="0.8"/>
<rect x="317.38" y="243.07" width="2.80" height="23.23" fill="#481c64"/>
<line x1="318.78" y1="239.33" x2="318.78" y2="243.07" stroke="#333333" stroke-width="0.8"/>
<line x1="317.88" y1="239.33" x2="319.68" y2="239.33" stroke="#333333" stroke-width="0.8"/>
<line x1="316.63" y1="266.30" x2="316.63" y2="269.10" stroke="#1a1a1a" stroke-width="0.9"/>
<text transform="translate(318.93,272.90) rotate(-90)" font-size="6.4" text-anchor="end" fill="#231f20" style="stroke-width:0.05px">CLL209</text>
<rect x="324.25" y="255.39" width="2.80" height="10.91" fill="#b8a1cb"/>
<line x1="325.65" y1="255.09" x2="325.65" y2="255.39" stroke="#333333" stroke-width="0.8"/>
<line x1="324.75" y1="255.09" x2="326.55" y2="255.09" stroke="#333333" stroke-width="0.8"/>
<rect x="328.55" y="205.90" width="2.80" height="60.40" fill="#481c64"/>
<rect x="328.55" y="189.20" width="2.80" height="9.90" fill="#481c64"/>
<line x1="329.95" y1="182.30" x2="329.95" y2="189.20" stroke="#333333" stroke-width="0.8"/>
<line x1="329.05" y1="182.30" x2="330.85" y2="182.30" stroke="#333333" stroke-width="0.8"/>
<line x1="327.80" y1="266.30" x2="327.80" y2="269.10" stroke="#1a1a1a" stroke-width="0.9"/>
<text transform="translate(330.10,272.90) rotate(-90)" font-size="6.4" text-anchor="end" fill="#231f20" style="stroke-width:0.05px">CLL210</text>
<rect x="335.42" y="255.39" width="2.80" height="10.91" fill="#b8a1cb"/>
<line x1="336.82" y1="255.09" x2="336.82" y2="255.39" stroke="#333333" stroke-width="0.8"/>
<line x1="335.92" y1="255.09" x2="337.72" y2="255.09" stroke="#333333" stroke-width="0.8"/>
<rect x="339.72" y="251.86" width="2.80" height="14.44" fill="#481c64"/>
<line x1="341.12" y1="250.54" x2="341.12" y2="251.86" stroke="#333333" stroke-width="0.8"/>
<line x1="340.22" y1="250.54" x2="342.02" y2="250.54" stroke="#333333" stroke-width="0.8"/>
<line x1="338.97" y1="266.30" x2="338.97" y2="269.10" stroke="#1a1a1a" stroke-width="0.9"/>
<text transform="translate(341.27,272.90) rotate(-90)" font-size="6.4" text-anchor="end" fill="#231f20" style="stroke-width:0.05px">CLL211</text>
<rect x="346.59" y="255.39" width="2.80" height="10.91" fill="#b8a1cb"/>
<line x1="347.99" y1="255.09" x2="347.99" y2="255.39" stroke="#333333" stroke-width="0.8"/>
<line x1="347.09" y1="255.09" x2="348.89" y2="255.09" stroke="#333333" stroke-width="0.8"/>
<rect x="350.89" y="228.32" width="2.80" height="37.98" fill="#481c64"/>
<line x1="352.29" y1="223.07" x2="352.29" y2="228.32" stroke="#333333" stroke-width="0.8"/>
<line x1="351.39" y1="223.07" x2="353.19" y2="223.07" stroke="#333333" stroke-width="0.8"/>
<line x1="350.14" y1="266.30" x2="350.14" y2="269.10" stroke="#1a1a1a" stroke-width="0.9"/>
<text transform="translate(352.44,272.90) rotate(-90)" font-size="6.4" text-anchor="end" fill="#231f20" style="stroke-width:0.05px">CLL223</text>
<rect x="357.76" y="255.19" width="2.80" height="11.11" fill="#b8a1cb"/>
<line x1="359.16" y1="254.89" x2="359.16" y2="255.19" stroke="#333333" stroke-width="0.8"/>
<line x1="358.26" y1="254.89" x2="360.06" y2="254.89" stroke="#333333" stroke-width="0.8"/>
<rect x="362.06" y="220.24" width="2.80" height="46.06" fill="#481c64"/>
<line x1="363.46" y1="209.24" x2="363.46" y2="220.24" stroke="#333333" stroke-width="0.8"/>
<line x1="362.56" y1="209.24" x2="364.36" y2="209.24" stroke="#333333" stroke-width="0.8"/>
<line x1="361.31" y1="266.30" x2="361.31" y2="269.10" stroke="#1a1a1a" stroke-width="0.9"/>
<text transform="translate(363.61,272.90) rotate(-90)" font-size="6.4" text-anchor="end" fill="#231f20" style="stroke-width:0.05px">CLL227</text>
<rect x="368.93" y="255.39" width="2.80" height="10.91" fill="#b8a1cb"/>
<line x1="370.33" y1="255.09" x2="370.33" y2="255.39" stroke="#333333" stroke-width="0.8"/>
<line x1="369.43" y1="255.09" x2="371.23" y2="255.09" stroke="#333333" stroke-width="0.8"/>
<rect x="373.23" y="226.91" width="2.80" height="39.39" fill="#481c64"/>
<line x1="374.63" y1="223.98" x2="374.63" y2="226.91" stroke="#333333" stroke-width="0.8"/>
<line x1="373.73" y1="223.98" x2="375.53" y2="223.98" stroke="#333333" stroke-width="0.8"/>
<line x1="372.48" y1="266.30" x2="372.48" y2="269.10" stroke="#1a1a1a" stroke-width="0.9"/>
<text transform="translate(374.78,272.90) rotate(-90)" font-size="6.4" text-anchor="end" fill="#231f20" style="stroke-width:0.05px">CLL229</text>
<rect x="380.10" y="255.39" width="2.80" height="10.91" fill="#b8a1cb"/>
<line x1="381.50" y1="255.09" x2="381.50" y2="255.39" stroke="#333333" stroke-width="0.8"/>
<line x1="380.60" y1="255.09" x2="382.40" y2="255.09" stroke="#333333" stroke-width="0.8"/>
<rect x="384.40" y="205.90" width="2.80" height="60.40" fill="#481c64"/>
<rect x="384.40" y="196.90" width="2.80" height="2.40" fill="#2e2038"/>
<line x1="383.65" y1="266.30" x2="383.65" y2="269.10" stroke="#1a1a1a" stroke-width="0.9"/>
<text transform="translate(385.95,272.90) rotate(-90)" font-size="6.4" text-anchor="end" fill="#231f20" style="stroke-width:0.05px">CLL230</text>
<rect x="391.27" y="254.48" width="2.80" height="11.82" fill="#b8a1cb"/>
<line x1="392.67" y1="254.18" x2="392.67" y2="254.48" stroke="#333333" stroke-width="0.8"/>
<line x1="391.77" y1="254.18" x2="393.57" y2="254.18" stroke="#333333" stroke-width="0.8"/>
<rect x="395.57" y="243.07" width="2.80" height="23.23" fill="#481c64"/>
<line x1="396.97" y1="238.42" x2="396.97" y2="243.07" stroke="#333333" stroke-width="0.8"/>
<line x1="396.07" y1="238.42" x2="397.87" y2="238.42" stroke="#333333" stroke-width="0.8"/>
<line x1="394.82" y1="266.30" x2="394.82" y2="269.10" stroke="#1a1a1a" stroke-width="0.9"/>
<text transform="translate(397.12,272.90) rotate(-90)" font-size="6.4" text-anchor="end" fill="#231f20" style="stroke-width:0.05px">CLL232</text>
<line x1="98.90" y1="266.90" x2="401.00" y2="266.90" stroke="#1a1a1a" stroke-width="1.3"/>
<line x1="98.90" y1="267.30" x2="98.90" y2="205.90" stroke="#1a1a1a" stroke-width="1.5"/>
<line x1="97.30" y1="205.90" x2="100.50" y2="205.90" stroke="#1a1a1a" stroke-width="0.9"/>
<line x1="96.60" y1="266.30" x2="98.90" y2="266.30" stroke="#1a1a1a" stroke-width="0.8"/>
<text x="93.30" y="268.40" font-size="6.1" text-anchor="end" fill="#231f20" style="stroke-width:0.04px">0</text>
<line x1="96.60" y1="246.10" x2="98.90" y2="246.10" stroke="#1a1a1a" stroke-width="0.8"/>
<text x="93.30" y="248.20" font-size="6.1" text-anchor="end" fill="#231f20" style="stroke-width:0.04px">2</text>
<line x1="96.60" y1="225.90" x2="98.90" y2="225.90" stroke="#1a1a1a" stroke-width="0.8"/>
<text x="93.30" y="228.00" font-size="6.1" text-anchor="end" fill="#231f20" style="stroke-width:0.04px">4</text>
<line x1="96.60" y1="205.70" x2="98.90" y2="205.70" stroke="#1a1a1a" stroke-width="0.8"/>
<text x="93.30" y="207.80" font-size="6.1" text-anchor="end" fill="#231f20" style="stroke-width:0.04px">6</text>
<line x1="98.90" y1="176.30" x2="98.90" y2="199.10" stroke="#1a1a1a" stroke-width="1.5"/>
<line x1="97.30" y1="199.10" x2="100.50" y2="199.10" stroke="#1a1a1a" stroke-width="0.9"/>
<line x1="96.60" y1="179.20" x2="98.90" y2="179.20" stroke="#1a1a1a" stroke-width="0.8"/>
<text x="93.30" y="181.30" font-size="6.1" text-anchor="end" fill="#231f20" style="stroke-width:0.04px">40</text>
<line x1="96.60" y1="184.90" x2="98.90" y2="184.90" stroke="#1a1a1a" stroke-width="0.8"/>
<text x="93.30" y="187.00" font-size="6.1" text-anchor="end" fill="#231f20" style="stroke-width:0.04px">30</text>
<line x1="96.60" y1="190.50" x2="98.90" y2="190.50" stroke="#1a1a1a" stroke-width="0.8"/>
<text x="93.30" y="192.60" font-size="6.1" text-anchor="end" fill="#231f20" style="stroke-width:0.04px">20</text>
<line x1="96.60" y1="196.25" x2="98.90" y2="196.25" stroke="#1a1a1a" stroke-width="0.8"/>
<text x="93.30" y="198.35" font-size="6.1" text-anchor="end" fill="#231f20" style="stroke-width:0.04px">10</text>
<text transform="translate(69.90,224.40) rotate(-90)" font-size="6.8" text-anchor="middle" fill="#231f20" textLength="72.3" lengthAdjust="spacingAndGlyphs">miR-181b relative expression</text>
<text transform="translate(79.30,224.40) rotate(-90)" font-size="6.8" text-anchor="middle" fill="#231f20" textLength="59.0" lengthAdjust="spacingAndGlyphs">(normalized on RNU44)</text>
<text x="249.70" y="171.00" font-size="8.3" text-anchor="middle" fill="#231f20" class="t">miR-181b</text>
<text x="249.70" y="185.00" font-size="6.3" text-anchor="middle" fill="#231f20"><tspan font-style="italic">P</tspan> &lt; .0001</text>
<rect x="410.10" y="215.40" width="5.80" height="5.80" fill="#b8a1cb"/>
<rect x="410.10" y="225.60" width="5.80" height="5.80" fill="#481c64"/>
<text x="419.10" y="220.40" font-size="6.3" fill="#231f20">DMSO</text>
<text x="419.10" y="230.60" font-size="6.3" fill="#231f20">IBRUTINIB 10μM</text>
<text x="51.60" y="170.30" font-size="11.6" font-weight="bold" fill="#000" class="nb">B</text>
<line x1="45.40" y1="454.70" x2="175.00" y2="454.70" stroke="#1a1a1a" stroke-width="1.3"/>
<line x1="45.40" y1="455.20" x2="45.40" y2="348.80" stroke="#1a1a1a" stroke-width="1.4"/>
<line x1="45.40" y1="363.98" x2="45.40" y2="405.62" stroke="#f3bd86" stroke-width="0.8"/>
<line x1="43.80" y1="363.98" x2="47.00" y2="363.98" stroke="#f3bd86" stroke-width="0.8"/>
<line x1="43.80" y1="405.62" x2="47.00" y2="405.62" stroke="#f3bd86" stroke-width="0.8"/>
<line x1="58.06" y1="368.14" x2="58.06" y2="391.74" stroke="#f3bd86" stroke-width="0.8"/>
<line x1="56.46" y1="368.14" x2="59.66" y2="368.14" stroke="#f3bd86" stroke-width="0.8"/>
<line x1="56.46" y1="391.74" x2="59.66" y2="391.74" stroke="#f3bd86" stroke-width="0.8"/>
<line x1="172.05" y1="419.85" x2="172.05" y2="428.87" stroke="#f3bd86" stroke-width="0.8"/>
<line x1="170.45" y1="419.85" x2="173.65" y2="419.85" stroke="#f3bd86" stroke-width="0.8"/>
<line x1="170.45" y1="428.87" x2="173.65" y2="428.87" stroke="#f3bd86" stroke-width="0.8"/>
<line x1="45.40" y1="363.98" x2="45.40" y2="405.62" stroke="#f3bd86" stroke-width="0.8"/>
<line x1="43.80" y1="363.98" x2="47.00" y2="363.98" stroke="#f3bd86" stroke-width="0.8"/>
<line x1="43.80" y1="405.62" x2="47.00" y2="405.62" stroke="#f3bd86" stroke-width="0.8"/>
<line x1="58.06" y1="410.82" x2="58.06" y2="419.15" stroke="#f3bd86" stroke-width="0.8"/>
<line x1="56.46" y1="410.82" x2="59.66" y2="410.82" stroke="#f3bd86" stroke-width="0.8"/>
<line x1="56.46" y1="419.15" x2="59.66" y2="419.15" stroke="#f3bd86" stroke-width="0.8"/>
<line x1="172.05" y1="442.40" x2="172.05" y2="449.34" stroke="#f3bd86" stroke-width="0.8"/>
<line x1="170.45" y1="442.40" x2="173.65" y2="442.40" stroke="#f3bd86" stroke-width="0.8"/>
<line x1="170.45" y1="449.34" x2="173.65" y2="449.34" stroke="#f3bd86" stroke-width="0.8"/>
<line x1="45.40" y1="363.98" x2="45.40" y2="405.62" stroke="#f3bd86" stroke-width="0.8"/>
<line x1="43.80" y1="363.98" x2="47.00" y2="363.98" stroke="#f3bd86" stroke-width="0.8"/>
<line x1="43.80" y1="405.62" x2="47.00" y2="405.62" stroke="#f3bd86" stroke-width="0.8"/>
<line x1="58.06" y1="437.20" x2="58.06" y2="439.97" stroke="#f3bd86" stroke-width="0.8"/>
<line x1="56.46" y1="437.20" x2="59.66" y2="437.20" stroke="#f3bd86" stroke-width="0.8"/>
<line x1="56.46" y1="439.97" x2="59.66" y2="439.97" stroke="#f3bd86" stroke-width="0.8"/>
<line x1="172.05" y1="449.34" x2="172.05" y2="452.12" stroke="#f3bd86" stroke-width="0.8"/>
<line x1="170.45" y1="449.34" x2="173.65" y2="449.34" stroke="#f3bd86" stroke-width="0.8"/>
<line x1="170.45" y1="452.12" x2="173.65" y2="452.12" stroke="#f3bd86" stroke-width="0.8"/>
<line x1="45.40" y1="363.98" x2="45.40" y2="405.62" stroke="#f3bd86" stroke-width="0.8"/>
<line x1="43.80" y1="363.98" x2="47.00" y2="363.98" stroke="#f3bd86" stroke-width="0.8"/>
<line x1="43.80" y1="405.62" x2="47.00" y2="405.62" stroke="#f3bd86" stroke-width="0.8"/>
<line x1="58.06" y1="424.01" x2="58.06" y2="429.56" stroke="#f3bd86" stroke-width="0.8"/>
<line x1="56.46" y1="424.01" x2="59.66" y2="424.01" stroke="#f3bd86" stroke-width="0.8"/>
<line x1="56.46" y1="429.56" x2="59.66" y2="429.56" stroke="#f3bd86" stroke-width="0.8"/>
<line x1="172.05" y1="446.57" x2="172.05" y2="450.73" stroke="#f3bd86" stroke-width="0.8"/>
<line x1="170.45" y1="446.57" x2="173.65" y2="446.57" stroke="#f3bd86" stroke-width="0.8"/>
<line x1="170.45" y1="450.73" x2="173.65" y2="450.73" stroke="#f3bd86" stroke-width="0.8"/>
<polyline points="45.40,384.80 58.06,379.94 172.05,424.36" fill="none" stroke="#f0ac50" stroke-width="1.0"/>
<polyline points="45.40,384.80 58.06,414.99 172.05,445.87" fill="none" stroke="#f0ac50" stroke-width="1.0"/>
<polyline points="45.40,384.80 58.06,438.58 172.05,450.73" fill="none" stroke="#f0ac50" stroke-width="1.0"/>
<polyline points="45.40,384.80 58.06,426.79 172.05,448.65" fill="none" stroke="#f0ac50" stroke-width="1.0"/>
<circle cx="45.40" cy="384.80" r="2.30" fill="#dc9914"/>
<circle cx="58.06" cy="379.94" r="2.30" fill="#dc9914"/>
<circle cx="172.05" cy="424.36" r="2.30" fill="#dc9914"/>
<rect x="43.00" y="382.40" width="4.80" height="4.80" fill="#ee8a12"/>
<rect x="55.66" y="412.59" width="4.80" height="4.80" fill="#ee8a12"/>
<rect x="169.65" y="443.47" width="4.80" height="4.80" fill="#ee8a12"/>
<polygon points="45.40,382.30 47.90,386.80 42.90,386.80" fill="#e6a52a"/>
<polygon points="58.06,436.08 60.56,440.58 55.56,440.58" fill="#e6a52a"/>
<polygon points="172.05,448.23 174.55,452.73 169.55,452.73" fill="#e6a52a"/>
<polygon points="45.40,382.10 48.10,384.80 45.40,387.50 42.70,384.80" fill="#ea9218"/>
<polygon points="58.06,424.09 60.77,426.79 58.06,429.49 55.36,426.79" fill="#ea9218"/>
<polygon points="172.05,445.95 174.75,448.65 172.05,451.35 169.35,448.65" fill="#ea9218"/>
<line x1="43.00" y1="454.20" x2="45.40" y2="454.20" stroke="#1a1a1a" stroke-width="0.8"/>
<text x="39.2" y="456.40" font-size="6.2" text-anchor="end" fill="#231f20" textLength="8.6" lengthAdjust="spacingAndGlyphs">0.0</text>
<line x1="43.00" y1="419.50" x2="45.40" y2="419.50" stroke="#1a1a1a" stroke-width="0.8"/>
<text x="39.2" y="421.70" font-size="6.2" text-anchor="end" fill="#231f20" textLength="8.6" lengthAdjust="spacingAndGlyphs">0.5</text>
<line x1="43.00" y1="384.80" x2="45.40" y2="384.80" stroke="#1a1a1a" stroke-width="0.8"/>
<text x="39.2" y="387.00" font-size="6.2" text-anchor="end" fill="#231f20" textLength="8.6" lengthAdjust="spacingAndGlyphs">1.0</text>
<line x1="43.00" y1="350.10" x2="45.40" y2="350.10" stroke="#1a1a1a" stroke-width="0.8"/>
<text x="39.2" y="352.30" font-size="6.2" text-anchor="end" fill="#231f20" textLength="8.6" lengthAdjust="spacingAndGlyphs">1.5</text>
<line x1="45.40" y1="454.20" x2="45.40" y2="456.80" stroke="#1a1a1a" stroke-width="0.8"/>
<text x="45.40" y="465.40" font-size="5.8" text-anchor="middle" fill="#231f20">0</text>
<line x1="58.06" y1="454.20" x2="58.06" y2="456.80" stroke="#1a1a1a" stroke-width="0.8"/>
<text x="58.06" y="465.40" font-size="5.8" text-anchor="middle" fill="#231f20">10</text>
<line x1="172.05" y1="454.20" x2="172.05" y2="456.80" stroke="#1a1a1a" stroke-width="0.8"/>
<text x="172.05" y="465.40" font-size="5.8" text-anchor="middle" fill="#231f20">100</text>
<text x="92.2" y="476.7" font-size="7.8" class="b" fill="#231f20" textLength="36.1" lengthAdjust="spacingAndGlyphs">Ibrutinib (μM)</text>
<text transform="translate(24.3,402.5) rotate(-90)" font-size="7.4" class="b" text-anchor="middle" fill="#231f20" textLength="31.0" lengthAdjust="spacingAndGlyphs">% Live cells</text>
<line x1="99.90" y1="343.00" x2="111.30" y2="343.00" stroke="#f0ac50" stroke-width="1.1"/>
<circle cx="105.60" cy="343.00" r="2.07" fill="#ea9018"/>
<text x="115.10" y="345.30" font-size="6.4" fill="#231f20">CLL206</text>
<text x="145.2" y="345.30" font-size="6.4" fill="#231f20"><tspan font-style="italic">P</tspan> = .0642</text>
<line x1="99.90" y1="353.17" x2="111.30" y2="353.17" stroke="#f0ac50" stroke-width="1.1"/>
<rect x="103.44" y="351.01" width="4.32" height="4.32" fill="#ea9018"/>
<text x="115.10" y="355.47" font-size="6.4" fill="#231f20">CLL211</text>
<text x="145.2" y="355.47" font-size="6.4" fill="#231f20"><tspan font-style="italic">P</tspan> = .0003</text>
<line x1="99.90" y1="363.34" x2="111.30" y2="363.34" stroke="#f0ac50" stroke-width="1.1"/>
<polygon points="105.60,361.09 107.85,365.14 103.35,365.14" fill="#ea9018"/>
<text x="115.10" y="365.64" font-size="6.4" fill="#231f20">CLL204A</text>
<text x="145.2" y="365.64" font-size="6.4" fill="#231f20"><tspan font-style="italic">P</tspan> &lt; .0001</text>
<line x1="99.90" y1="373.51" x2="111.30" y2="373.51" stroke="#f0ac50" stroke-width="1.1"/>
<polygon points="105.60,371.08 108.03,373.51 105.60,375.94 103.17,373.51" fill="#ea9018"/>
<text x="115.10" y="375.81" font-size="6.4" fill="#231f20">CLL209</text>
<text x="145.2" y="375.81" font-size="6.4" fill="#231f20"><tspan font-style="italic">P</tspan> = .0022</text>
<text x="6.60" y="325.00" font-size="11.6" font-weight="bold" fill="#000" class="nb">C</text>
<text x="193.00" y="325.10" font-size="11.6" font-weight="bold" fill="#000" class="nb">D</text>
<line x1="232.40" y1="416.10" x2="291.30" y2="416.10" stroke="#1a1a1a" stroke-width="1.2"/>
<line x1="291.30" y1="414.10" x2="291.30" y2="418.10" stroke="#1a1a1a" stroke-width="1.0"/>
<line x1="298.70" y1="416.10" x2="346.50" y2="416.10" stroke="#1a1a1a" stroke-width="1.2"/>
<line x1="298.70" y1="414.10" x2="298.70" y2="418.10" stroke="#1a1a1a" stroke-width="1.0"/>
<line x1="232.40" y1="416.70" x2="232.40" y2="331.50" stroke="#1a1a1a" stroke-width="1.2"/>
<line x1="231.90" y1="372.13" x2="231.90" y2="376.26" stroke="#7f9bb4" stroke-width="0.7"/>
<line x1="230.30" y1="372.13" x2="233.50" y2="372.13" stroke="#7f9bb4" stroke-width="0.7"/>
<line x1="230.30" y1="376.26" x2="233.50" y2="376.26" stroke="#7f9bb4" stroke-width="0.7"/>
<line x1="235.88" y1="360.16" x2="235.88" y2="364.29" stroke="#7f9bb4" stroke-width="0.7"/>
<line x1="234.28" y1="360.16" x2="237.48" y2="360.16" stroke="#7f9bb4" stroke-width="0.7"/>
<line x1="234.28" y1="364.29" x2="237.48" y2="364.29" stroke="#7f9bb4" stroke-width="0.7"/>
<line x1="271.70" y1="372.13" x2="271.70" y2="374.61" stroke="#7f9bb4" stroke-width="0.7"/>
<line x1="270.10" y1="372.13" x2="273.30" y2="372.13" stroke="#7f9bb4" stroke-width="0.7"/>
<line x1="270.10" y1="374.61" x2="273.30" y2="374.61" stroke="#7f9bb4" stroke-width="0.7"/>
<line x1="343.61" y1="379.16" x2="343.61" y2="381.63" stroke="#7f9bb4" stroke-width="0.7"/>
<line x1="342.01" y1="379.16" x2="345.21" y2="379.16" stroke="#7f9bb4" stroke-width="0.7"/>
<line x1="342.01" y1="381.63" x2="345.21" y2="381.63" stroke="#7f9bb4" stroke-width="0.7"/>
<line x1="231.90" y1="372.13" x2="231.90" y2="376.26" stroke="#e0909f" stroke-width="0.7"/>
<line x1="230.30" y1="372.13" x2="233.50" y2="372.13" stroke="#e0909f" stroke-width="0.7"/>
<line x1="230.30" y1="376.26" x2="233.50" y2="376.26" stroke="#e0909f" stroke-width="0.7"/>
<line x1="235.88" y1="356.03" x2="235.88" y2="376.68" stroke="#e0909f" stroke-width="0.7"/>
<line x1="234.28" y1="356.03" x2="237.48" y2="356.03" stroke="#e0909f" stroke-width="0.7"/>
<line x1="234.28" y1="376.68" x2="237.48" y2="376.68" stroke="#e0909f" stroke-width="0.7"/>
<line x1="271.70" y1="375.44" x2="271.70" y2="377.92" stroke="#e0909f" stroke-width="0.7"/>
<line x1="270.10" y1="375.44" x2="273.30" y2="375.44" stroke="#e0909f" stroke-width="0.7"/>
<line x1="270.10" y1="377.92" x2="273.30" y2="377.92" stroke="#e0909f" stroke-width="0.7"/>
<line x1="343.61" y1="365.53" x2="343.61" y2="369.66" stroke="#e0909f" stroke-width="0.7"/>
<line x1="342.01" y1="365.53" x2="345.21" y2="365.53" stroke="#e0909f" stroke-width="0.7"/>
<line x1="342.01" y1="369.66" x2="345.21" y2="369.66" stroke="#e0909f" stroke-width="0.7"/>
<line x1="231.90" y1="370.07" x2="231.90" y2="378.33" stroke="#86c99a" stroke-width="0.7"/>
<line x1="230.30" y1="370.07" x2="233.50" y2="370.07" stroke="#86c99a" stroke-width="0.7"/>
<line x1="230.30" y1="378.33" x2="233.50" y2="378.33" stroke="#86c99a" stroke-width="0.7"/>
<line x1="235.88" y1="341.57" x2="235.88" y2="360.57" stroke="#86c99a" stroke-width="0.7"/>
<line x1="234.28" y1="341.57" x2="237.48" y2="341.57" stroke="#86c99a" stroke-width="0.7"/>
<line x1="234.28" y1="360.57" x2="237.48" y2="360.57" stroke="#86c99a" stroke-width="0.7"/>
<line x1="271.70" y1="356.85" x2="271.70" y2="366.77" stroke="#86c99a" stroke-width="0.7"/>
<line x1="270.10" y1="356.85" x2="273.30" y2="356.85" stroke="#86c99a" stroke-width="0.7"/>
<line x1="270.10" y1="366.77" x2="273.30" y2="366.77" stroke="#86c99a" stroke-width="0.7"/>
<line x1="343.61" y1="356.44" x2="343.61" y2="380.39" stroke="#86c99a" stroke-width="0.7"/>
<line x1="342.01" y1="356.44" x2="345.21" y2="356.44" stroke="#86c99a" stroke-width="0.7"/>
<line x1="342.01" y1="380.39" x2="345.21" y2="380.39" stroke="#86c99a" stroke-width="0.7"/>
<polyline points="231.90,374.20 235.88,362.22 271.70,373.37 291.00,375.26" fill="none" stroke="#3a6386" stroke-width="0.8"/>
<polyline points="299.00,376.04 343.61,380.39" fill="none" stroke="#3a6386" stroke-width="0.8"/>
<polyline points="231.90,374.20 235.88,366.35 271.70,376.68 291.00,374.24" fill="none" stroke="#cd4560" stroke-width="0.8"/>
<polyline points="299.00,373.23 343.61,367.59" fill="none" stroke="#cd4560" stroke-width="0.8"/>
<polyline points="231.90,374.20 235.88,351.07 271.70,361.81 291.00,363.58" fill="none" stroke="#55b770" stroke-width="0.8"/>
<polyline points="299.00,364.32 343.61,368.42" fill="none" stroke="#55b770" stroke-width="0.8"/>
<circle cx="231.90" cy="374.20" r="2.0" fill="#133e5c"/>
<circle cx="235.88" cy="362.22" r="2.0" fill="#133e5c"/>
<circle cx="271.70" cy="373.37" r="2.0" fill="#133e5c"/>
<circle cx="343.61" cy="380.39" r="2.0" fill="#133e5c"/>
<circle cx="231.90" cy="374.20" r="2.0" fill="#c4173b"/>
<circle cx="235.88" cy="366.35" r="2.0" fill="#c4173b"/>
<circle cx="271.70" cy="376.68" r="2.0" fill="#c4173b"/>
<circle cx="343.61" cy="367.59" r="2.0" fill="#c4173b"/>
<circle cx="231.90" cy="374.20" r="2.0" fill="#3aab63"/>
<circle cx="235.88" cy="351.07" r="2.0" fill="#3aab63"/>
<circle cx="271.70" cy="361.81" r="2.0" fill="#3aab63"/>
<circle cx="343.61" cy="368.42" r="2.0" fill="#3aab63"/>
<line x1="229.80" y1="415.50" x2="232.40" y2="415.50" stroke="#1a1a1a" stroke-width="0.9"/>
<text x="227.00" y="417.70" font-size="6.2" text-anchor="end" fill="#231f20" textLength="9.40" lengthAdjust="spacingAndGlyphs">0.0</text>
<line x1="229.80" y1="394.85" x2="232.40" y2="394.85" stroke="#1a1a1a" stroke-width="0.9"/>
<text x="227.00" y="397.05" font-size="6.2" text-anchor="end" fill="#231f20" textLength="9.40" lengthAdjust="spacingAndGlyphs">0.5</text>
<line x1="229.80" y1="374.20" x2="232.40" y2="374.20" stroke="#1a1a1a" stroke-width="0.9"/>
<text x="227.00" y="376.40" font-size="6.2" text-anchor="end" fill="#231f20" textLength="9.40" lengthAdjust="spacingAndGlyphs">1.0</text>
<line x1="229.80" y1="353.55" x2="232.40" y2="353.55" stroke="#1a1a1a" stroke-width="0.9"/>
<text x="227.00" y="355.75" font-size="6.2" text-anchor="end" fill="#231f20" textLength="9.40" lengthAdjust="spacingAndGlyphs">1.5</text>
<line x1="229.80" y1="332.90" x2="232.40" y2="332.90" stroke="#1a1a1a" stroke-width="0.9"/>
<text x="227.00" y="335.10" font-size="6.2" text-anchor="end" fill="#231f20" textLength="9.40" lengthAdjust="spacingAndGlyphs">2.0</text>
<line x1="231.90" y1="415.50" x2="231.90" y2="418.00" stroke="#1a1a1a" stroke-width="0.9"/>
<text x="231.30" y="427.60" font-size="5.7" text-anchor="middle" fill="#231f20">0</text>
<line x1="235.88" y1="415.50" x2="235.88" y2="418.00" stroke="#1a1a1a" stroke-width="0.9"/>
<text x="237.08" y="427.60" font-size="5.7" text-anchor="middle" fill="#231f20">1</text>
<line x1="271.70" y1="415.50" x2="271.70" y2="418.00" stroke="#1a1a1a" stroke-width="0.9"/>
<text x="271.70" y="427.60" font-size="5.7" text-anchor="middle" fill="#231f20">10</text>
<text x="299.30" y="427.60" font-size="5.7" text-anchor="middle" fill="#231f20">70</text>
<line x1="314.07" y1="415.50" x2="314.07" y2="418.00" stroke="#1a1a1a" stroke-width="0.9"/>
<text x="314.07" y="427.60" font-size="5.7" text-anchor="middle" fill="#231f20">80</text>
<line x1="328.84" y1="415.50" x2="328.84" y2="418.00" stroke="#1a1a1a" stroke-width="0.9"/>
<text x="328.84" y="427.60" font-size="5.7" text-anchor="middle" fill="#231f20">90</text>
<line x1="343.61" y1="415.50" x2="343.61" y2="418.00" stroke="#1a1a1a" stroke-width="0.9"/>
<text x="343.61" y="427.60" font-size="5.7" text-anchor="middle" fill="#231f20">100</text>
<text x="269.00" y="438.70" font-size="7.8" class="b" fill="#231f20" textLength="38.1" lengthAdjust="spacingAndGlyphs">Ibrutinib (μM)</text>
<text transform="translate(211.20,374.60) rotate(-90)" font-size="7.4" class="b" text-anchor="middle" fill="#231f20" textLength="31.2" lengthAdjust="spacingAndGlyphs">% Live cells</text>
<text x="287.80" y="324.80" font-size="8.5" text-anchor="middle" fill="#231f20" class="t">CLL205</text>
<text x="245.90" y="396.50" font-size="6.0" fill="#231f20" textLength="11.10" lengthAdjust="spacingAndGlyphs">pTw</text>
<text x="258.60" y="398.40" font-size="3.9" fill="#555" style="stroke-width:0" textLength="19.10" lengthAdjust="spacingAndGlyphs">H vs 181a</text>
<text x="279.20" y="396.50" font-size="5.7" fill="#231f20" textLength="26.30" lengthAdjust="spacingAndGlyphs">= 0.1456</text>
<text x="245.90" y="406.50" font-size="6.0" fill="#231f20" textLength="11.10" lengthAdjust="spacingAndGlyphs">pTw</text>
<text x="258.60" y="408.40" font-size="3.9" fill="#555" style="stroke-width:0" textLength="19.10" lengthAdjust="spacingAndGlyphs">H vs 181b</text>
<text x="279.20" y="406.50" font-size="5.7" fill="#231f20" textLength="26.30" lengthAdjust="spacingAndGlyphs">= 0.1799</text>
<line x1="232.30" y1="451.40" x2="243.60" y2="451.40" stroke="#3aab63" stroke-width="1.0"/>
<circle cx="237.95" cy="451.40" r="2.2" fill="#3aab63"/>
<text x="247.90" y="453.70" font-size="6.5" fill="#231f20" textLength="12.0" lengthAdjust="spacingAndGlyphs">TwH</text>
<line x1="265.50" y1="451.40" x2="276.80" y2="451.40" stroke="#c4173b" stroke-width="1.0"/>
<circle cx="271.15" cy="451.40" r="2.2" fill="#c4173b"/>
<text x="281.10" y="453.70" font-size="6.5" fill="#231f20" textLength="21.9" lengthAdjust="spacingAndGlyphs">Tw181a</text>
<line x1="308.30" y1="451.40" x2="319.60" y2="451.40" stroke="#133e5c" stroke-width="1.0"/>
<circle cx="313.95" cy="451.40" r="2.2" fill="#133e5c"/>
<text x="323.90" y="453.70" font-size="6.5" fill="#231f20" textLength="22.3" lengthAdjust="spacingAndGlyphs">Tw181b</text>
<line x1="396.60" y1="416.30" x2="456.20" y2="416.30" stroke="#1a1a1a" stroke-width="1.2"/>
<line x1="456.20" y1="414.30" x2="456.20" y2="418.30" stroke="#1a1a1a" stroke-width="1.0"/>
<line x1="462.70" y1="416.30" x2="510.30" y2="416.30" stroke="#1a1a1a" stroke-width="1.2"/>
<line x1="462.70" y1="414.30" x2="462.70" y2="418.30" stroke="#1a1a1a" stroke-width="1.0"/>
<line x1="396.60" y1="416.90" x2="396.60" y2="331.50" stroke="#1a1a1a" stroke-width="1.2"/>
<line x1="396.40" y1="397.48" x2="396.40" y2="400.80" stroke="#7f9bb4" stroke-width="0.7"/>
<line x1="394.80" y1="397.48" x2="398.00" y2="397.48" stroke="#7f9bb4" stroke-width="0.7"/>
<line x1="394.80" y1="400.80" x2="398.00" y2="400.80" stroke="#7f9bb4" stroke-width="0.7"/>
<line x1="400.35" y1="401.07" x2="400.35" y2="404.38" stroke="#7f9bb4" stroke-width="0.7"/>
<line x1="398.75" y1="401.07" x2="401.95" y2="401.07" stroke="#7f9bb4" stroke-width="0.7"/>
<line x1="398.75" y1="404.38" x2="401.95" y2="404.38" stroke="#7f9bb4" stroke-width="0.7"/>
<line x1="435.90" y1="390.31" x2="435.90" y2="404.11" stroke="#7f9bb4" stroke-width="0.7"/>
<line x1="434.30" y1="390.31" x2="437.50" y2="390.31" stroke="#7f9bb4" stroke-width="0.7"/>
<line x1="434.30" y1="404.11" x2="437.50" y2="404.11" stroke="#7f9bb4" stroke-width="0.7"/>
<line x1="507.51" y1="403.83" x2="507.51" y2="412.11" stroke="#7f9bb4" stroke-width="0.7"/>
<line x1="505.91" y1="403.83" x2="509.11" y2="403.83" stroke="#7f9bb4" stroke-width="0.7"/>
<line x1="505.91" y1="412.11" x2="509.11" y2="412.11" stroke="#7f9bb4" stroke-width="0.7"/>
<line x1="396.40" y1="395.00" x2="396.40" y2="399.42" stroke="#e0909f" stroke-width="0.7"/>
<line x1="394.80" y1="395.00" x2="398.00" y2="395.00" stroke="#e0909f" stroke-width="0.7"/>
<line x1="394.80" y1="399.42" x2="398.00" y2="399.42" stroke="#e0909f" stroke-width="0.7"/>
<line x1="400.35" y1="381.48" x2="400.35" y2="388.10" stroke="#e0909f" stroke-width="0.7"/>
<line x1="398.75" y1="381.48" x2="401.95" y2="381.48" stroke="#e0909f" stroke-width="0.7"/>
<line x1="398.75" y1="388.10" x2="401.95" y2="388.10" stroke="#e0909f" stroke-width="0.7"/>
<line x1="435.90" y1="390.58" x2="435.90" y2="396.10" stroke="#e0909f" stroke-width="0.7"/>
<line x1="434.30" y1="390.58" x2="437.50" y2="390.58" stroke="#e0909f" stroke-width="0.7"/>
<line x1="434.30" y1="396.10" x2="437.50" y2="396.10" stroke="#e0909f" stroke-width="0.7"/>
<line x1="507.51" y1="414.87" x2="507.51" y2="415.70" stroke="#e0909f" stroke-width="0.7"/>
<line x1="505.91" y1="414.87" x2="509.11" y2="414.87" stroke="#e0909f" stroke-width="0.7"/>
<line x1="505.91" y1="415.70" x2="509.11" y2="415.70" stroke="#e0909f" stroke-width="0.7"/>
<line x1="396.40" y1="384.79" x2="396.40" y2="391.41" stroke="#86c99a" stroke-width="0.7"/>
<line x1="394.80" y1="384.79" x2="398.00" y2="384.79" stroke="#86c99a" stroke-width="0.7"/>
<line x1="394.80" y1="391.41" x2="398.00" y2="391.41" stroke="#86c99a" stroke-width="0.7"/>
<line x1="400.35" y1="372.64" x2="400.35" y2="377.06" stroke="#86c99a" stroke-width="0.7"/>
<line x1="398.75" y1="372.64" x2="401.95" y2="372.64" stroke="#86c99a" stroke-width="0.7"/>
<line x1="398.75" y1="377.06" x2="401.95" y2="377.06" stroke="#86c99a" stroke-width="0.7"/>
<line x1="435.90" y1="347.80" x2="435.90" y2="379.82" stroke="#86c99a" stroke-width="0.7"/>
<line x1="434.30" y1="347.80" x2="437.50" y2="347.80" stroke="#86c99a" stroke-width="0.7"/>
<line x1="434.30" y1="379.82" x2="437.50" y2="379.82" stroke="#86c99a" stroke-width="0.7"/>
<line x1="507.51" y1="382.03" x2="507.51" y2="394.17" stroke="#86c99a" stroke-width="0.7"/>
<line x1="505.91" y1="382.03" x2="509.11" y2="382.03" stroke="#86c99a" stroke-width="0.7"/>
<line x1="505.91" y1="394.17" x2="509.11" y2="394.17" stroke="#86c99a" stroke-width="0.7"/>
<polyline points="396.40,399.14 400.35,402.73 435.90,397.21 455.90,400.21" fill="none" stroke="#3a6386" stroke-width="0.8"/>
<polyline points="463.00,401.28 507.51,407.97" fill="none" stroke="#3a6386" stroke-width="0.8"/>
<polyline points="396.40,397.21 400.35,384.79 435.90,393.34 455.90,399.59" fill="none" stroke="#cd4560" stroke-width="0.8"/>
<polyline points="463.00,401.80 507.51,415.70" fill="none" stroke="#cd4560" stroke-width="0.8"/>
<polyline points="396.40,388.10 400.35,374.85 435.90,363.81 455.90,370.60" fill="none" stroke="#55b770" stroke-width="0.8"/>
<polyline points="463.00,373.00 507.51,388.10" fill="none" stroke="#55b770" stroke-width="0.8"/>
<circle cx="396.40" cy="399.14" r="2.0" fill="#133e5c"/>
<circle cx="400.35" cy="402.73" r="2.0" fill="#133e5c"/>
<circle cx="435.90" cy="397.21" r="2.0" fill="#133e5c"/>
<circle cx="507.51" cy="407.97" r="2.0" fill="#133e5c"/>
<circle cx="396.40" cy="397.21" r="2.0" fill="#c4173b"/>
<circle cx="400.35" cy="384.79" r="2.0" fill="#c4173b"/>
<circle cx="435.90" cy="393.34" r="2.0" fill="#c4173b"/>
<circle cx="507.51" cy="415.70" r="2.0" fill="#c4173b"/>
<circle cx="396.40" cy="388.10" r="2.0" fill="#3aab63"/>
<circle cx="400.35" cy="374.85" r="2.0" fill="#3aab63"/>
<circle cx="435.90" cy="363.81" r="2.0" fill="#3aab63"/>
<circle cx="507.51" cy="388.10" r="2.0" fill="#3aab63"/>
<line x1="394.00" y1="415.70" x2="396.60" y2="415.70" stroke="#1a1a1a" stroke-width="0.9"/>
<text x="389.20" y="417.90" font-size="6.2" text-anchor="end" fill="#231f20">0</text>
<line x1="394.00" y1="388.10" x2="396.60" y2="388.10" stroke="#1a1a1a" stroke-width="0.9"/>
<text x="389.20" y="390.30" font-size="6.2" text-anchor="end" fill="#231f20">1</text>
<line x1="394.00" y1="360.50" x2="396.60" y2="360.50" stroke="#1a1a1a" stroke-width="0.9"/>
<text x="389.20" y="362.70" font-size="6.2" text-anchor="end" fill="#231f20">2</text>
<line x1="394.00" y1="332.90" x2="396.60" y2="332.90" stroke="#1a1a1a" stroke-width="0.9"/>
<text x="389.20" y="335.10" font-size="6.2" text-anchor="end" fill="#231f20">3</text>
<line x1="396.40" y1="415.70" x2="396.40" y2="418.20" stroke="#1a1a1a" stroke-width="0.9"/>
<text x="395.80" y="427.60" font-size="5.7" text-anchor="middle" fill="#231f20">0</text>
<line x1="400.35" y1="415.70" x2="400.35" y2="418.20" stroke="#1a1a1a" stroke-width="0.9"/>
<text x="401.55" y="427.60" font-size="5.7" text-anchor="middle" fill="#231f20">1</text>
<line x1="435.90" y1="415.70" x2="435.90" y2="418.20" stroke="#1a1a1a" stroke-width="0.9"/>
<text x="435.90" y="427.60" font-size="5.7" text-anchor="middle" fill="#231f20">10</text>
<text x="463.20" y="427.60" font-size="5.7" text-anchor="middle" fill="#231f20">70</text>
<line x1="477.97" y1="415.70" x2="477.97" y2="418.20" stroke="#1a1a1a" stroke-width="0.9"/>
<text x="477.97" y="427.60" font-size="5.7" text-anchor="middle" fill="#231f20">80</text>
<line x1="492.74" y1="415.70" x2="492.74" y2="418.20" stroke="#1a1a1a" stroke-width="0.9"/>
<text x="492.74" y="427.60" font-size="5.7" text-anchor="middle" fill="#231f20">90</text>
<line x1="507.51" y1="415.70" x2="507.51" y2="418.20" stroke="#1a1a1a" stroke-width="0.9"/>
<text x="507.51" y="427.60" font-size="5.7" text-anchor="middle" fill="#231f20">100</text>
<text x="432.90" y="438.90" font-size="7.8" class="b" fill="#231f20" textLength="37.6" lengthAdjust="spacingAndGlyphs">Ibrutinib (μM)</text>
<text transform="translate(380.50,374.50) rotate(-90)" font-size="7.4" class="b" text-anchor="middle" fill="#231f20" textLength="31.9" lengthAdjust="spacingAndGlyphs">% Live cells</text>
<text x="451.60" y="324.50" font-size="8.5" text-anchor="middle" fill="#231f20" class="t">CLL210</text>
<text x="448.00" y="342.20" font-size="6.0" fill="#231f20" textLength="10.80" lengthAdjust="spacingAndGlyphs">pTw</text>
<text x="460.40" y="344.10" font-size="3.9" fill="#555" style="stroke-width:0" textLength="20.10" lengthAdjust="spacingAndGlyphs">H vs 181a</text>
<text x="482.00" y="342.20" font-size="5.7" fill="#231f20" textLength="25.30" lengthAdjust="spacingAndGlyphs">= 0.0353</text>
<text x="448.00" y="352.20" font-size="6.0" fill="#231f20" textLength="10.80" lengthAdjust="spacingAndGlyphs">pTw</text>
<text x="460.40" y="354.10" font-size="3.9" fill="#555" style="stroke-width:0" textLength="20.10" lengthAdjust="spacingAndGlyphs">H vs 181b</text>
<text x="482.00" y="352.20" font-size="5.7" fill="#231f20" textLength="25.30" lengthAdjust="spacingAndGlyphs">= 0.0142</text>
<line x1="394.50" y1="449.20" x2="405.80" y2="449.20" stroke="#3aab63" stroke-width="1.0"/>
<circle cx="400.15" cy="449.20" r="2.2" fill="#3aab63"/>
<text x="410.10" y="451.50" font-size="6.5" fill="#231f20" textLength="12.0" lengthAdjust="spacingAndGlyphs">TwH</text>
<line x1="428.00" y1="449.20" x2="439.30" y2="449.20" stroke="#c4173b" stroke-width="1.0"/>
<circle cx="433.65" cy="449.20" r="2.2" fill="#c4173b"/>
<text x="443.60" y="451.50" font-size="6.5" fill="#231f20" textLength="21.9" lengthAdjust="spacingAndGlyphs">Tw181a</text>
<line x1="470.50" y1="449.20" x2="481.80" y2="449.20" stroke="#133e5c" stroke-width="1.0"/>
<circle cx="476.15" cy="449.20" r="2.2" fill="#133e5c"/>
<text x="486.10" y="451.50" font-size="6.5" fill="#231f20" textLength="22.3" lengthAdjust="spacingAndGlyphs">Tw181b</text>
<line x1="309.60" y1="578.00" x2="369.30" y2="578.00" stroke="#1a1a1a" stroke-width="1.2"/>
<line x1="369.30" y1="576.00" x2="369.30" y2="580.00" stroke="#1a1a1a" stroke-width="1.0"/>
<line x1="376.70" y1="578.00" x2="424.00" y2="578.00" stroke="#1a1a1a" stroke-width="1.2"/>
<line x1="376.70" y1="576.00" x2="376.70" y2="580.00" stroke="#1a1a1a" stroke-width="1.0"/>
<line x1="309.60" y1="578.60" x2="309.60" y2="491.90" stroke="#1a1a1a" stroke-width="1.2"/>
<line x1="309.50" y1="537.88" x2="309.50" y2="542.04" stroke="#7f9bb4" stroke-width="0.7"/>
<line x1="307.90" y1="537.88" x2="311.10" y2="537.88" stroke="#7f9bb4" stroke-width="0.7"/>
<line x1="307.90" y1="542.04" x2="311.10" y2="542.04" stroke="#7f9bb4" stroke-width="0.7"/>
<line x1="313.54" y1="544.12" x2="313.54" y2="548.28" stroke="#7f9bb4" stroke-width="0.7"/>
<line x1="311.94" y1="544.12" x2="315.14" y2="544.12" stroke="#7f9bb4" stroke-width="0.7"/>
<line x1="311.94" y1="548.28" x2="315.14" y2="548.28" stroke="#7f9bb4" stroke-width="0.7"/>
<line x1="349.90" y1="566.58" x2="349.90" y2="568.25" stroke="#7f9bb4" stroke-width="0.7"/>
<line x1="348.30" y1="566.58" x2="351.50" y2="566.58" stroke="#7f9bb4" stroke-width="0.7"/>
<line x1="348.30" y1="568.25" x2="351.50" y2="568.25" stroke="#7f9bb4" stroke-width="0.7"/>
<line x1="421.30" y1="572.41" x2="421.30" y2="574.07" stroke="#7f9bb4" stroke-width="0.7"/>
<line x1="419.70" y1="572.41" x2="422.90" y2="572.41" stroke="#7f9bb4" stroke-width="0.7"/>
<line x1="419.70" y1="574.07" x2="422.90" y2="574.07" stroke="#7f9bb4" stroke-width="0.7"/>
<line x1="309.50" y1="535.80" x2="309.50" y2="544.12" stroke="#e0909f" stroke-width="0.7"/>
<line x1="307.90" y1="535.80" x2="311.10" y2="535.80" stroke="#e0909f" stroke-width="0.7"/>
<line x1="307.90" y1="544.12" x2="311.10" y2="544.12" stroke="#e0909f" stroke-width="0.7"/>
<line x1="313.54" y1="554.10" x2="313.54" y2="560.76" stroke="#e0909f" stroke-width="0.7"/>
<line x1="311.94" y1="554.10" x2="315.14" y2="554.10" stroke="#e0909f" stroke-width="0.7"/>
<line x1="311.94" y1="560.76" x2="315.14" y2="560.76" stroke="#e0909f" stroke-width="0.7"/>
<line x1="349.90" y1="567.00" x2="349.90" y2="568.66" stroke="#e0909f" stroke-width="0.7"/>
<line x1="348.30" y1="567.00" x2="351.50" y2="567.00" stroke="#e0909f" stroke-width="0.7"/>
<line x1="348.30" y1="568.66" x2="351.50" y2="568.66" stroke="#e0909f" stroke-width="0.7"/>
<line x1="421.30" y1="566.17" x2="421.30" y2="569.50" stroke="#e0909f" stroke-width="0.7"/>
<line x1="419.70" y1="566.17" x2="422.90" y2="566.17" stroke="#e0909f" stroke-width="0.7"/>
<line x1="419.70" y1="569.50" x2="422.90" y2="569.50" stroke="#e0909f" stroke-width="0.7"/>
<line x1="309.50" y1="519.99" x2="309.50" y2="551.61" stroke="#86c99a" stroke-width="0.7"/>
<line x1="307.90" y1="519.99" x2="311.10" y2="519.99" stroke="#86c99a" stroke-width="0.7"/>
<line x1="307.90" y1="551.61" x2="311.10" y2="551.61" stroke="#86c99a" stroke-width="0.7"/>
<line x1="313.54" y1="522.49" x2="313.54" y2="535.80" stroke="#86c99a" stroke-width="0.7"/>
<line x1="311.94" y1="522.49" x2="315.14" y2="522.49" stroke="#86c99a" stroke-width="0.7"/>
<line x1="311.94" y1="535.80" x2="315.14" y2="535.80" stroke="#86c99a" stroke-width="0.7"/>
<line x1="349.90" y1="505.43" x2="349.90" y2="538.71" stroke="#86c99a" stroke-width="0.7"/>
<line x1="348.30" y1="505.43" x2="351.50" y2="505.43" stroke="#86c99a" stroke-width="0.7"/>
<line x1="348.30" y1="538.71" x2="351.50" y2="538.71" stroke="#86c99a" stroke-width="0.7"/>
<line x1="421.30" y1="557.43" x2="421.30" y2="565.75" stroke="#86c99a" stroke-width="0.7"/>
<line x1="419.70" y1="557.43" x2="422.90" y2="557.43" stroke="#86c99a" stroke-width="0.7"/>
<line x1="419.70" y1="565.75" x2="422.90" y2="565.75" stroke="#86c99a" stroke-width="0.7"/>
<polyline points="309.50,539.96 313.54,546.20 349.90,567.42 369.00,568.97" fill="none" stroke="#3a6386" stroke-width="0.8"/>
<polyline points="377.00,569.63 421.30,573.24" fill="none" stroke="#3a6386" stroke-width="0.8"/>
<polyline points="309.50,539.96 313.54,557.43 349.90,567.83 369.00,567.83" fill="none" stroke="#cd4560" stroke-width="0.8"/>
<polyline points="377.00,567.83 421.30,567.83" fill="none" stroke="#cd4560" stroke-width="0.8"/>
<polyline points="309.50,535.80 313.54,529.14 349.90,522.07 369.00,532.64" fill="none" stroke="#55b770" stroke-width="0.8"/>
<polyline points="377.00,537.07 421.30,561.59" fill="none" stroke="#55b770" stroke-width="0.8"/>
<circle cx="309.50" cy="539.96" r="2.0" fill="#133e5c"/>
<circle cx="313.54" cy="546.20" r="2.0" fill="#133e5c"/>
<circle cx="349.90" cy="567.42" r="2.0" fill="#133e5c"/>
<circle cx="421.30" cy="573.24" r="2.0" fill="#133e5c"/>
<circle cx="309.50" cy="539.96" r="2.0" fill="#c4173b"/>
<circle cx="313.54" cy="557.43" r="2.0" fill="#c4173b"/>
<circle cx="349.90" cy="567.83" r="2.0" fill="#c4173b"/>
<circle cx="421.30" cy="567.83" r="2.0" fill="#c4173b"/>
<circle cx="309.50" cy="535.80" r="2.0" fill="#3aab63"/>
<circle cx="313.54" cy="529.14" r="2.0" fill="#3aab63"/>
<circle cx="349.90" cy="522.07" r="2.0" fill="#3aab63"/>
<circle cx="421.30" cy="561.59" r="2.0" fill="#3aab63"/>
<line x1="307.00" y1="577.40" x2="309.60" y2="577.40" stroke="#1a1a1a" stroke-width="0.9"/>
<text x="304.30" y="579.60" font-size="6.2" text-anchor="end" fill="#231f20" textLength="9.80" lengthAdjust="spacingAndGlyphs">0.0</text>
<line x1="307.00" y1="556.60" x2="309.60" y2="556.60" stroke="#1a1a1a" stroke-width="0.9"/>
<text x="304.30" y="558.80" font-size="6.2" text-anchor="end" fill="#231f20" textLength="9.80" lengthAdjust="spacingAndGlyphs">0.5</text>
<line x1="307.00" y1="535.80" x2="309.60" y2="535.80" stroke="#1a1a1a" stroke-width="0.9"/>
<text x="304.30" y="538.00" font-size="6.2" text-anchor="end" fill="#231f20" textLength="9.80" lengthAdjust="spacingAndGlyphs">1.0</text>
<line x1="307.00" y1="515.00" x2="309.60" y2="515.00" stroke="#1a1a1a" stroke-width="0.9"/>
<text x="304.30" y="517.20" font-size="6.2" text-anchor="end" fill="#231f20" textLength="9.80" lengthAdjust="spacingAndGlyphs">1.5</text>
<line x1="307.00" y1="494.20" x2="309.60" y2="494.20" stroke="#1a1a1a" stroke-width="0.9"/>
<text x="304.30" y="496.40" font-size="6.2" text-anchor="end" fill="#231f20" textLength="9.80" lengthAdjust="spacingAndGlyphs">2.0</text>
<line x1="309.50" y1="577.40" x2="309.50" y2="579.90" stroke="#1a1a1a" stroke-width="0.9"/>
<text x="308.90" y="589.40" font-size="5.7" text-anchor="middle" fill="#231f20">0</text>
<line x1="313.54" y1="577.40" x2="313.54" y2="579.90" stroke="#1a1a1a" stroke-width="0.9"/>
<text x="314.74" y="589.40" font-size="5.7" text-anchor="middle" fill="#231f20">1</text>
<line x1="349.90" y1="577.40" x2="349.90" y2="579.90" stroke="#1a1a1a" stroke-width="0.9"/>
<text x="349.90" y="589.40" font-size="5.7" text-anchor="middle" fill="#231f20">10</text>
<text x="376.90" y="589.40" font-size="5.7" text-anchor="middle" fill="#231f20">70</text>
<line x1="391.70" y1="577.40" x2="391.70" y2="579.90" stroke="#1a1a1a" stroke-width="0.9"/>
<text x="391.70" y="589.40" font-size="5.7" text-anchor="middle" fill="#231f20">80</text>
<line x1="406.50" y1="577.40" x2="406.50" y2="579.90" stroke="#1a1a1a" stroke-width="0.9"/>
<text x="406.50" y="589.40" font-size="5.7" text-anchor="middle" fill="#231f20">90</text>
<line x1="421.30" y1="577.40" x2="421.30" y2="579.90" stroke="#1a1a1a" stroke-width="0.9"/>
<text x="421.30" y="589.40" font-size="5.7" text-anchor="middle" fill="#231f20">100</text>
<text x="346.30" y="600.40" font-size="7.8" class="b" fill="#231f20" textLength="38.1" lengthAdjust="spacingAndGlyphs">Ibrutinib (μM)</text>
<text transform="translate(288.40,535.80) rotate(-90)" font-size="7.4" class="b" text-anchor="middle" fill="#231f20" textLength="31.2" lengthAdjust="spacingAndGlyphs">% Live cells</text>
<text x="365.00" y="486.30" font-size="8.5" text-anchor="middle" fill="#231f20" class="t">CLL211</text>
<text x="362.00" y="502.30" font-size="6.0" fill="#231f20" textLength="10.30" lengthAdjust="spacingAndGlyphs">pTw</text>
<text x="373.90" y="504.20" font-size="3.9" fill="#555" style="stroke-width:0" textLength="19.20" lengthAdjust="spacingAndGlyphs">H vs 181a</text>
<text x="394.60" y="502.30" font-size="5.7" fill="#231f20" textLength="25.60" lengthAdjust="spacingAndGlyphs">= 0.0021</text>
<text x="362.00" y="512.30" font-size="6.0" fill="#231f20" textLength="10.30" lengthAdjust="spacingAndGlyphs">pTw</text>
<text x="373.90" y="514.20" font-size="3.9" fill="#555" style="stroke-width:0" textLength="19.20" lengthAdjust="spacingAndGlyphs">H vs 181b</text>
<text x="394.60" y="512.30" font-size="5.7" fill="#231f20" textLength="25.60" lengthAdjust="spacingAndGlyphs">= 0.0017</text>
<line x1="436.00" y1="524.30" x2="447.30" y2="524.30" stroke="#3aab63" stroke-width="1.0"/>
<circle cx="441.65" cy="524.30" r="2.2" fill="#3aab63"/>
<text x="451.60" y="526.60" font-size="6.5" fill="#231f20" textLength="12.0" lengthAdjust="spacingAndGlyphs">TwH</text>
<line x1="436.00" y1="534.30" x2="447.30" y2="534.30" stroke="#c4173b" stroke-width="1.0"/>
<circle cx="441.65" cy="534.30" r="2.2" fill="#c4173b"/>
<text x="451.60" y="536.60" font-size="6.5" fill="#231f20" textLength="21.9" lengthAdjust="spacingAndGlyphs">Tw181a</text>
<line x1="436.00" y1="544.50" x2="447.30" y2="544.50" stroke="#133e5c" stroke-width="1.0"/>
<circle cx="441.65" cy="544.50" r="2.2" fill="#133e5c"/>
<text x="451.60" y="546.80" font-size="6.5" fill="#231f20" textLength="22.3" lengthAdjust="spacingAndGlyphs">Tw181b</text>
<rect x="0.5" y="0.5" width="519" height="609" fill="none" stroke="#626262" stroke-width="1"/>
</svg>
</body></html>
